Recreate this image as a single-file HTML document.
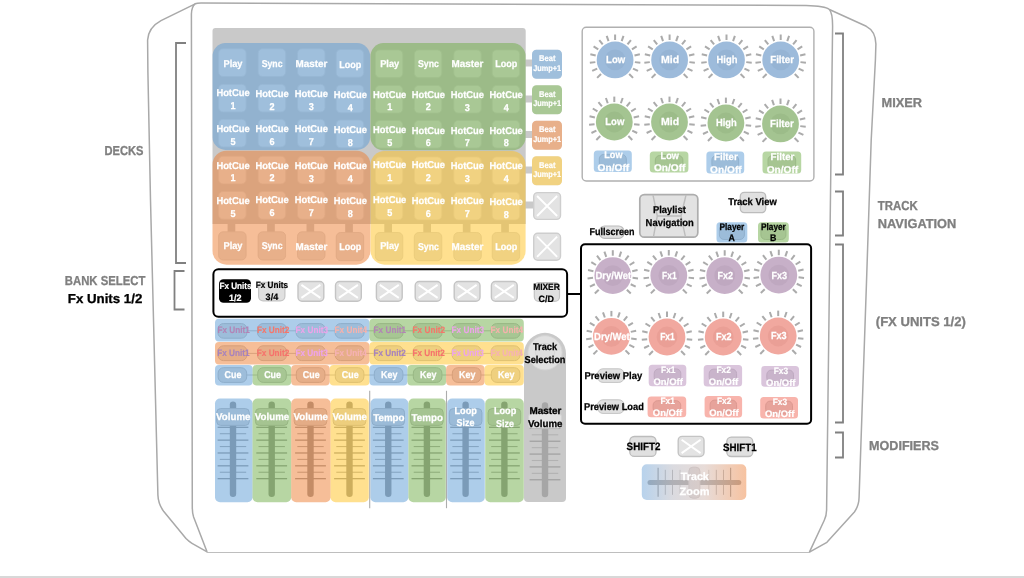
<!DOCTYPE html>
<html lang="en">
<head>
<meta charset="utf-8">
<title>Controller mapping</title>
<style>
html,body{margin:0;padding:0;background:#fff;}
body{width:1024px;height:578px;overflow:hidden;}
svg{display:block;}
text{font-family:"Liberation Sans",sans-serif;font-weight:bold;text-rendering:geometricPrecision;}
</style>
</head>
<body>
<svg width="1024" height="578" viewBox="0 0 1024 578">
<rect width="1024" height="578" fill="#fff"/>
<g fill="none" stroke="#a9a9a9" stroke-width="1.5" stroke-linejoin="round">
<path d="M195.2,3.8 L161,20.6 Q148.4,27.4 147.6,40 L147.9,72 L150.5,200 L157.9,495 Q158.2,504 163.8,511.6 L186,538.6 Q188.6,541.4 192,543.3 L207.1,551.9 L809.4,552.1 L826.9,542.3 L854.4,512 Q859,505.5 859.1,497 L866.4,285 L871.2,140 L875.4,60 L875.9,44 Q875.5,31 866.3,26.3 L829.4,9.5"/>
<path d="M207.1,551.9 L193.6,517 Q192.4,513.5 192.3,508 L191.4,14 Q191.6,6.5 195.2,3.8 Q197,3 201,3 L806,5.4 Q825,5.8 829.4,9.5 Q832.6,13 832.6,26 L826.6,510 Q826.4,516 824.4,520 L809.4,552.1" fill="#fff"/>
</g>
<g fill="none" stroke="#808080" stroke-width="1.8">
<path d="M186,43 L176,43 L176,263 L186,263"/>
<path d="M184.5,271 L174.5,271 L174.5,309.5 L184.5,309.5"/>
<path d="M835,33.5 L843,33.5 L843,174.5 L835,174.5"/>
<path d="M835,191.5 L843,191.5 L843,235.5 L835,235.5"/>
<path d="M835,244.5 L843,244.5 L843,422.5 L835,422.5"/>
<path d="M835,432.5 L843,432.5 L843,457.5 L835,457.5"/>
</g>
<text x="104.5" y="155.3" font-size="13" fill="#7f7f7f" stroke="#7f7f7f" stroke-width="0.3" textLength="39" lengthAdjust="spacingAndGlyphs">DECKS</text>
<text x="64.8" y="285.2" font-size="13" fill="#7f7f7f" stroke="#7f7f7f" stroke-width="0.3" textLength="80.5" lengthAdjust="spacingAndGlyphs">BANK SELECT</text>
<text x="67.8" y="303.2" font-size="13" fill="#000" stroke="#000" stroke-width="0.3" textLength="74.5" lengthAdjust="spacingAndGlyphs">Fx Units 1/2</text>
<text x="881.5" y="107" font-size="13" fill="#7f7f7f" stroke="#7f7f7f" stroke-width="0.3" textLength="40.5" lengthAdjust="spacingAndGlyphs">MIXER</text>
<text x="877.8" y="210.2" font-size="13" fill="#7f7f7f" stroke="#7f7f7f" stroke-width="0.3" textLength="40" lengthAdjust="spacingAndGlyphs">TRACK</text>
<text x="877.8" y="228.2" font-size="13" fill="#7f7f7f" stroke="#7f7f7f" stroke-width="0.3" textLength="78.5" lengthAdjust="spacingAndGlyphs">NAVIGATION</text>
<text x="875.8" y="326.3" font-size="13" fill="#7f7f7f" stroke="#7f7f7f" stroke-width="0.3" textLength="90" lengthAdjust="spacingAndGlyphs">(FX UNITS 1/2)</text>
<text x="869" y="449.6" font-size="13" fill="#7f7f7f" stroke="#7f7f7f" stroke-width="0.3" textLength="70" lengthAdjust="spacingAndGlyphs">MODIFIERS</text>
<path d="M212.5,224 V31 Q212.5,28 215.5,28 H522.7 Q525.7,28 525.7,31 V224 Z" fill="#c9c9c9"/>
<rect x="227.60" y="223.00" width="7.70" height="9.50" fill="#c9c9c9"/>
<rect x="267.10" y="223.00" width="7.70" height="9.50" fill="#c9c9c9"/>
<rect x="306.50" y="223.00" width="7.70" height="9.50" fill="#c9c9c9"/>
<rect x="345.20" y="223.00" width="7.70" height="9.50" fill="#c9c9c9"/>
<rect x="384.30" y="223.00" width="7.70" height="9.50" fill="#c9c9c9"/>
<rect x="423.30" y="223.00" width="7.70" height="9.50" fill="#c9c9c9"/>
<rect x="462.80" y="223.00" width="7.70" height="9.50" fill="#c9c9c9"/>
<rect x="501.20" y="223.00" width="7.70" height="9.50" fill="#c9c9c9"/>
<rect x="525.00" y="59.50" width="8.00" height="7.00" fill="#c9c9c9"/>
<rect x="525.00" y="95.50" width="8.00" height="7.00" fill="#c9c9c9"/>
<rect x="525.00" y="131.00" width="8.00" height="7.00" fill="#c9c9c9"/>
<rect x="525.00" y="166.50" width="8.00" height="7.00" fill="#c9c9c9"/>
<rect x="525.00" y="201.50" width="8.00" height="7.00" fill="#c9c9c9"/>
<rect x="218.60" y="48.80" width="27.50" height="27.70" rx="4.5" fill="#e2e2e2" stroke="#d2d2d2" stroke-width="0.8"/>
<rect x="218.60" y="84.30" width="27.50" height="27.70" rx="4.5" fill="#e2e2e2" stroke="#d2d2d2" stroke-width="0.8"/>
<rect x="218.60" y="119.30" width="27.50" height="27.70" rx="4.5" fill="#e2e2e2" stroke="#d2d2d2" stroke-width="0.8"/>
<rect x="218.60" y="156.20" width="27.50" height="27.70" rx="4.5" fill="#e2e2e2" stroke="#d2d2d2" stroke-width="0.8"/>
<rect x="218.60" y="191.50" width="27.50" height="27.70" rx="4.5" fill="#e2e2e2" stroke="#d2d2d2" stroke-width="0.8"/>
<rect x="218.60" y="231.80" width="27.50" height="28.20" rx="4.5" fill="#e2e2e2" stroke="#d2d2d2" stroke-width="0.8"/>
<rect x="258.10" y="48.80" width="27.50" height="27.70" rx="4.5" fill="#e2e2e2" stroke="#d2d2d2" stroke-width="0.8"/>
<rect x="258.10" y="84.30" width="27.50" height="27.70" rx="4.5" fill="#e2e2e2" stroke="#d2d2d2" stroke-width="0.8"/>
<rect x="258.10" y="119.30" width="27.50" height="27.70" rx="4.5" fill="#e2e2e2" stroke="#d2d2d2" stroke-width="0.8"/>
<rect x="258.10" y="156.20" width="27.50" height="27.70" rx="4.5" fill="#e2e2e2" stroke="#d2d2d2" stroke-width="0.8"/>
<rect x="258.10" y="191.50" width="27.50" height="27.70" rx="4.5" fill="#e2e2e2" stroke="#d2d2d2" stroke-width="0.8"/>
<rect x="258.10" y="231.80" width="27.50" height="28.20" rx="4.5" fill="#e2e2e2" stroke="#d2d2d2" stroke-width="0.8"/>
<rect x="297.50" y="48.80" width="27.50" height="27.70" rx="4.5" fill="#e2e2e2" stroke="#d2d2d2" stroke-width="0.8"/>
<rect x="297.50" y="84.30" width="27.50" height="27.70" rx="4.5" fill="#e2e2e2" stroke="#d2d2d2" stroke-width="0.8"/>
<rect x="297.50" y="119.30" width="27.50" height="27.70" rx="4.5" fill="#e2e2e2" stroke="#d2d2d2" stroke-width="0.8"/>
<rect x="297.50" y="156.20" width="27.50" height="27.70" rx="4.5" fill="#e2e2e2" stroke="#d2d2d2" stroke-width="0.8"/>
<rect x="297.50" y="191.50" width="27.50" height="27.70" rx="4.5" fill="#e2e2e2" stroke="#d2d2d2" stroke-width="0.8"/>
<rect x="297.50" y="231.80" width="27.50" height="28.20" rx="4.5" fill="#e2e2e2" stroke="#d2d2d2" stroke-width="0.8"/>
<rect x="336.20" y="49.50" width="27.50" height="27.70" rx="4.5" fill="#e2e2e2" stroke="#d2d2d2" stroke-width="0.8"/>
<rect x="336.20" y="85.00" width="27.50" height="27.70" rx="4.5" fill="#e2e2e2" stroke="#d2d2d2" stroke-width="0.8"/>
<rect x="336.20" y="120.00" width="27.50" height="27.70" rx="4.5" fill="#e2e2e2" stroke="#d2d2d2" stroke-width="0.8"/>
<rect x="336.20" y="156.90" width="27.50" height="27.70" rx="4.5" fill="#e2e2e2" stroke="#d2d2d2" stroke-width="0.8"/>
<rect x="336.20" y="192.20" width="27.50" height="27.70" rx="4.5" fill="#e2e2e2" stroke="#d2d2d2" stroke-width="0.8"/>
<rect x="336.20" y="232.50" width="27.50" height="28.20" rx="4.5" fill="#e2e2e2" stroke="#d2d2d2" stroke-width="0.8"/>
<rect x="375.30" y="49.90" width="27.50" height="27.70" rx="4.5" fill="#e2e2e2" stroke="#d2d2d2" stroke-width="0.8"/>
<rect x="375.30" y="85.40" width="27.50" height="27.70" rx="4.5" fill="#e2e2e2" stroke="#d2d2d2" stroke-width="0.8"/>
<rect x="375.30" y="120.40" width="27.50" height="27.70" rx="4.5" fill="#e2e2e2" stroke="#d2d2d2" stroke-width="0.8"/>
<rect x="375.30" y="156.90" width="27.50" height="27.70" rx="4.5" fill="#e2e2e2" stroke="#d2d2d2" stroke-width="0.8"/>
<rect x="375.30" y="192.20" width="27.50" height="27.70" rx="4.5" fill="#e2e2e2" stroke="#d2d2d2" stroke-width="0.8"/>
<rect x="375.30" y="232.50" width="27.50" height="28.20" rx="4.5" fill="#e2e2e2" stroke="#d2d2d2" stroke-width="0.8"/>
<rect x="414.30" y="49.90" width="27.50" height="27.70" rx="4.5" fill="#e2e2e2" stroke="#d2d2d2" stroke-width="0.8"/>
<rect x="414.30" y="85.40" width="27.50" height="27.70" rx="4.5" fill="#e2e2e2" stroke="#d2d2d2" stroke-width="0.8"/>
<rect x="414.30" y="120.40" width="27.50" height="27.70" rx="4.5" fill="#e2e2e2" stroke="#d2d2d2" stroke-width="0.8"/>
<rect x="414.30" y="156.90" width="27.50" height="27.70" rx="4.5" fill="#e2e2e2" stroke="#d2d2d2" stroke-width="0.8"/>
<rect x="414.30" y="192.20" width="27.50" height="27.70" rx="4.5" fill="#e2e2e2" stroke="#d2d2d2" stroke-width="0.8"/>
<rect x="414.30" y="232.50" width="27.50" height="28.20" rx="4.5" fill="#e2e2e2" stroke="#d2d2d2" stroke-width="0.8"/>
<rect x="453.80" y="49.90" width="27.50" height="27.70" rx="4.5" fill="#e2e2e2" stroke="#d2d2d2" stroke-width="0.8"/>
<rect x="453.80" y="85.40" width="27.50" height="27.70" rx="4.5" fill="#e2e2e2" stroke="#d2d2d2" stroke-width="0.8"/>
<rect x="453.80" y="120.40" width="27.50" height="27.70" rx="4.5" fill="#e2e2e2" stroke="#d2d2d2" stroke-width="0.8"/>
<rect x="453.80" y="156.90" width="27.50" height="27.70" rx="4.5" fill="#e2e2e2" stroke="#d2d2d2" stroke-width="0.8"/>
<rect x="453.80" y="192.20" width="27.50" height="27.70" rx="4.5" fill="#e2e2e2" stroke="#d2d2d2" stroke-width="0.8"/>
<rect x="453.80" y="232.50" width="27.50" height="28.20" rx="4.5" fill="#e2e2e2" stroke="#d2d2d2" stroke-width="0.8"/>
<rect x="492.20" y="49.90" width="27.50" height="27.70" rx="4.5" fill="#e2e2e2" stroke="#d2d2d2" stroke-width="0.8"/>
<rect x="492.20" y="85.40" width="27.50" height="27.70" rx="4.5" fill="#e2e2e2" stroke="#d2d2d2" stroke-width="0.8"/>
<rect x="492.20" y="120.40" width="27.50" height="27.70" rx="4.5" fill="#e2e2e2" stroke="#d2d2d2" stroke-width="0.8"/>
<rect x="492.20" y="156.90" width="27.50" height="27.70" rx="4.5" fill="#e2e2e2" stroke="#d2d2d2" stroke-width="0.8"/>
<rect x="492.20" y="192.20" width="27.50" height="27.70" rx="4.5" fill="#e2e2e2" stroke="#d2d2d2" stroke-width="0.8"/>
<rect x="492.20" y="232.50" width="27.50" height="28.20" rx="4.5" fill="#e2e2e2" stroke="#d2d2d2" stroke-width="0.8"/>
<rect x="532.00" y="49.70" width="30.00" height="29.00" rx="4.5" fill="#e2e2e2"/>
<rect x="532.00" y="85.20" width="30.00" height="29.00" rx="4.5" fill="#e2e2e2"/>
<rect x="532.00" y="120.70" width="30.00" height="29.00" rx="4.5" fill="#e2e2e2"/>
<rect x="532.00" y="156.20" width="30.00" height="29.00" rx="4.5" fill="#e2e2e2"/>
<rect x="533.70" y="192.60" width="26.80" height="26.80" rx="4" fill="#e3e3e3" stroke="#cecece" stroke-width="1.4"/>
<path d="M537.10,196.00 L557.10,216.00 M557.10,196.00 L537.10,216.00" stroke="#fff" stroke-width="1.9" fill="none"/>
<rect x="533.70" y="233.20" width="26.80" height="27.00" rx="4" fill="#e3e3e3" stroke="#cecece" stroke-width="1.4"/>
<path d="M537.10,236.60 L557.10,256.80 M557.10,236.60 L537.10,256.80" stroke="#fff" stroke-width="1.9" fill="none"/>
<rect x="212.50" y="43.10" width="157.60" height="106.80" rx="13" fill="#5b9bd5" opacity="0.5"/>
<rect x="370.50" y="43.10" width="155.10" height="107.10" rx="13" fill="#70ad47" opacity="0.5"/>
<rect x="212.50" y="150.70" width="157.90" height="114.00" rx="14" fill="#ed7d31" opacity="0.5"/>
<rect x="370.60" y="150.90" width="155.00" height="113.80" rx="14" fill="#ffc220" opacity="0.5"/>
<rect x="532.00" y="49.70" width="30.00" height="29.00" rx="4.5" fill="#5b9bd5" opacity="0.5"/>
<rect x="532.00" y="85.20" width="30.00" height="29.00" rx="4.5" fill="#70ad47" opacity="0.5"/>
<rect x="532.00" y="120.70" width="30.00" height="29.00" rx="4.5" fill="#ed7d31" opacity="0.5"/>
<rect x="532.00" y="156.20" width="30.00" height="29.00" rx="4.5" fill="#ffc220" opacity="0.5"/>
<text x="233.00" y="66.50" font-size="9.9" fill="#fff" stroke="#fff" stroke-width="0.25" text-anchor="middle" textLength="19.0" lengthAdjust="spacingAndGlyphs">Play</text>
<text x="233.00" y="248.50" font-size="9.9" fill="#fff" stroke="#fff" stroke-width="0.25" text-anchor="middle" textLength="19.0" lengthAdjust="spacingAndGlyphs">Play</text>
<text x="233.00" y="95.80" font-size="9.9" fill="#fff" stroke="#fff" stroke-width="0.25" text-anchor="middle" textLength="33.2" lengthAdjust="spacingAndGlyphs">HotCue</text>
<text transform="translate(233.00,108.80) scale(0.92,1)" font-size="9.9" fill="#fff" stroke="#fff" stroke-width="0.25" text-anchor="middle">1</text>
<text x="233.00" y="131.80" font-size="9.9" fill="#fff" stroke="#fff" stroke-width="0.25" text-anchor="middle" textLength="33.2" lengthAdjust="spacingAndGlyphs">HotCue</text>
<text transform="translate(233.00,144.80) scale(0.92,1)" font-size="9.9" fill="#fff" stroke="#fff" stroke-width="0.25" text-anchor="middle">5</text>
<text x="233.00" y="168.60" font-size="9.9" fill="#fff" stroke="#fff" stroke-width="0.25" text-anchor="middle" textLength="33.2" lengthAdjust="spacingAndGlyphs">HotCue</text>
<text transform="translate(233.00,181.30) scale(0.92,1)" font-size="9.9" fill="#fff" stroke="#fff" stroke-width="0.25" text-anchor="middle">1</text>
<text x="233.00" y="203.70" font-size="9.9" fill="#fff" stroke="#fff" stroke-width="0.25" text-anchor="middle" textLength="33.2" lengthAdjust="spacingAndGlyphs">HotCue</text>
<text transform="translate(233.00,216.60) scale(0.92,1)" font-size="9.9" fill="#fff" stroke="#fff" stroke-width="0.25" text-anchor="middle">5</text>
<text x="272.10" y="66.80" font-size="9.9" fill="#fff" stroke="#fff" stroke-width="0.25" text-anchor="middle" textLength="20.9" lengthAdjust="spacingAndGlyphs">Sync</text>
<text x="272.10" y="248.50" font-size="9.9" fill="#fff" stroke="#fff" stroke-width="0.25" text-anchor="middle" textLength="20.9" lengthAdjust="spacingAndGlyphs">Sync</text>
<text x="272.10" y="96.60" font-size="9.9" fill="#fff" stroke="#fff" stroke-width="0.25" text-anchor="middle" textLength="33.2" lengthAdjust="spacingAndGlyphs">HotCue</text>
<text transform="translate(272.10,109.60) scale(0.92,1)" font-size="9.9" fill="#fff" stroke="#fff" stroke-width="0.25" text-anchor="middle">2</text>
<text x="272.10" y="132.30" font-size="9.9" fill="#fff" stroke="#fff" stroke-width="0.25" text-anchor="middle" textLength="33.2" lengthAdjust="spacingAndGlyphs">HotCue</text>
<text transform="translate(272.10,145.30) scale(0.92,1)" font-size="9.9" fill="#fff" stroke="#fff" stroke-width="0.25" text-anchor="middle">6</text>
<text x="272.10" y="168.60" font-size="9.9" fill="#fff" stroke="#fff" stroke-width="0.25" text-anchor="middle" textLength="33.2" lengthAdjust="spacingAndGlyphs">HotCue</text>
<text transform="translate(272.10,181.30) scale(0.92,1)" font-size="9.9" fill="#fff" stroke="#fff" stroke-width="0.25" text-anchor="middle">2</text>
<text x="272.10" y="203.30" font-size="9.9" fill="#fff" stroke="#fff" stroke-width="0.25" text-anchor="middle" textLength="33.2" lengthAdjust="spacingAndGlyphs">HotCue</text>
<text transform="translate(272.10,216.20) scale(0.92,1)" font-size="9.9" fill="#fff" stroke="#fff" stroke-width="0.25" text-anchor="middle">6</text>
<text x="311.40" y="67.10" font-size="9.9" fill="#fff" stroke="#fff" stroke-width="0.25" text-anchor="middle" textLength="31.9" lengthAdjust="spacingAndGlyphs">Master</text>
<text x="311.40" y="249.50" font-size="9.9" fill="#fff" stroke="#fff" stroke-width="0.25" text-anchor="middle" textLength="31.9" lengthAdjust="spacingAndGlyphs">Master</text>
<text x="311.40" y="97.00" font-size="9.9" fill="#fff" stroke="#fff" stroke-width="0.25" text-anchor="middle" textLength="33.2" lengthAdjust="spacingAndGlyphs">HotCue</text>
<text transform="translate(311.40,110.00) scale(0.92,1)" font-size="9.9" fill="#fff" stroke="#fff" stroke-width="0.25" text-anchor="middle">3</text>
<text x="311.40" y="132.30" font-size="9.9" fill="#fff" stroke="#fff" stroke-width="0.25" text-anchor="middle" textLength="33.2" lengthAdjust="spacingAndGlyphs">HotCue</text>
<text transform="translate(311.40,145.30) scale(0.92,1)" font-size="9.9" fill="#fff" stroke="#fff" stroke-width="0.25" text-anchor="middle">7</text>
<text x="311.40" y="169.00" font-size="9.9" fill="#fff" stroke="#fff" stroke-width="0.25" text-anchor="middle" textLength="33.2" lengthAdjust="spacingAndGlyphs">HotCue</text>
<text transform="translate(311.40,181.70) scale(0.92,1)" font-size="9.9" fill="#fff" stroke="#fff" stroke-width="0.25" text-anchor="middle">3</text>
<text x="311.40" y="203.30" font-size="9.9" fill="#fff" stroke="#fff" stroke-width="0.25" text-anchor="middle" textLength="33.2" lengthAdjust="spacingAndGlyphs">HotCue</text>
<text transform="translate(311.40,216.20) scale(0.92,1)" font-size="9.9" fill="#fff" stroke="#fff" stroke-width="0.25" text-anchor="middle">7</text>
<text x="350.30" y="67.70" font-size="9.9" fill="#fff" stroke="#fff" stroke-width="0.25" text-anchor="middle" textLength="22.0" lengthAdjust="spacingAndGlyphs">Loop</text>
<text x="350.30" y="249.70" font-size="9.9" fill="#fff" stroke="#fff" stroke-width="0.25" text-anchor="middle" textLength="22.0" lengthAdjust="spacingAndGlyphs">Loop</text>
<text x="350.30" y="97.50" font-size="9.9" fill="#fff" stroke="#fff" stroke-width="0.25" text-anchor="middle" textLength="33.2" lengthAdjust="spacingAndGlyphs">HotCue</text>
<text transform="translate(350.30,110.50) scale(0.92,1)" font-size="9.9" fill="#fff" stroke="#fff" stroke-width="0.25" text-anchor="middle">4</text>
<text x="350.30" y="132.90" font-size="9.9" fill="#fff" stroke="#fff" stroke-width="0.25" text-anchor="middle" textLength="33.2" lengthAdjust="spacingAndGlyphs">HotCue</text>
<text transform="translate(350.30,145.90) scale(0.92,1)" font-size="9.9" fill="#fff" stroke="#fff" stroke-width="0.25" text-anchor="middle">8</text>
<text x="350.30" y="169.00" font-size="9.9" fill="#fff" stroke="#fff" stroke-width="0.25" text-anchor="middle" textLength="33.2" lengthAdjust="spacingAndGlyphs">HotCue</text>
<text transform="translate(350.30,181.70) scale(0.92,1)" font-size="9.9" fill="#fff" stroke="#fff" stroke-width="0.25" text-anchor="middle">4</text>
<text x="350.30" y="203.70" font-size="9.9" fill="#fff" stroke="#fff" stroke-width="0.25" text-anchor="middle" textLength="33.2" lengthAdjust="spacingAndGlyphs">HotCue</text>
<text transform="translate(350.30,216.60) scale(0.92,1)" font-size="9.9" fill="#fff" stroke="#fff" stroke-width="0.25" text-anchor="middle">8</text>
<text x="389.70" y="66.90" font-size="9.9" fill="#fff" stroke="#fff" stroke-width="0.25" text-anchor="middle" textLength="19.0" lengthAdjust="spacingAndGlyphs">Play</text>
<text x="389.70" y="248.50" font-size="9.9" fill="#fff" stroke="#fff" stroke-width="0.25" text-anchor="middle" textLength="19.0" lengthAdjust="spacingAndGlyphs">Play</text>
<text x="389.70" y="97.50" font-size="9.9" fill="#fff" stroke="#fff" stroke-width="0.25" text-anchor="middle" textLength="33.2" lengthAdjust="spacingAndGlyphs">HotCue</text>
<text transform="translate(389.70,109.90) scale(0.92,1)" font-size="9.9" fill="#fff" stroke="#fff" stroke-width="0.25" text-anchor="middle">1</text>
<text x="389.70" y="133.10" font-size="9.9" fill="#fff" stroke="#fff" stroke-width="0.25" text-anchor="middle" textLength="33.2" lengthAdjust="spacingAndGlyphs">HotCue</text>
<text transform="translate(389.70,145.90) scale(0.92,1)" font-size="9.9" fill="#fff" stroke="#fff" stroke-width="0.25" text-anchor="middle">5</text>
<text x="389.70" y="167.80" font-size="9.9" fill="#fff" stroke="#fff" stroke-width="0.25" text-anchor="middle" textLength="33.2" lengthAdjust="spacingAndGlyphs">HotCue</text>
<text transform="translate(389.70,180.70) scale(0.92,1)" font-size="9.9" fill="#fff" stroke="#fff" stroke-width="0.25" text-anchor="middle">1</text>
<text x="389.70" y="203.30" font-size="9.9" fill="#fff" stroke="#fff" stroke-width="0.25" text-anchor="middle" textLength="33.2" lengthAdjust="spacingAndGlyphs">HotCue</text>
<text transform="translate(389.70,216.30) scale(0.92,1)" font-size="9.9" fill="#fff" stroke="#fff" stroke-width="0.25" text-anchor="middle">5</text>
<text x="428.40" y="67.00" font-size="9.9" fill="#fff" stroke="#fff" stroke-width="0.25" text-anchor="middle" textLength="20.9" lengthAdjust="spacingAndGlyphs">Sync</text>
<text x="428.40" y="249.50" font-size="9.9" fill="#fff" stroke="#fff" stroke-width="0.25" text-anchor="middle" textLength="20.9" lengthAdjust="spacingAndGlyphs">Sync</text>
<text x="428.40" y="97.50" font-size="9.9" fill="#fff" stroke="#fff" stroke-width="0.25" text-anchor="middle" textLength="33.2" lengthAdjust="spacingAndGlyphs">HotCue</text>
<text transform="translate(428.40,109.90) scale(0.92,1)" font-size="9.9" fill="#fff" stroke="#fff" stroke-width="0.25" text-anchor="middle">2</text>
<text x="428.40" y="133.60" font-size="9.9" fill="#fff" stroke="#fff" stroke-width="0.25" text-anchor="middle" textLength="33.2" lengthAdjust="spacingAndGlyphs">HotCue</text>
<text transform="translate(428.40,146.40) scale(0.92,1)" font-size="9.9" fill="#fff" stroke="#fff" stroke-width="0.25" text-anchor="middle">6</text>
<text x="428.40" y="167.80" font-size="9.9" fill="#fff" stroke="#fff" stroke-width="0.25" text-anchor="middle" textLength="33.2" lengthAdjust="spacingAndGlyphs">HotCue</text>
<text transform="translate(428.40,180.70) scale(0.92,1)" font-size="9.9" fill="#fff" stroke="#fff" stroke-width="0.25" text-anchor="middle">2</text>
<text x="428.40" y="203.70" font-size="9.9" fill="#fff" stroke="#fff" stroke-width="0.25" text-anchor="middle" textLength="33.2" lengthAdjust="spacingAndGlyphs">HotCue</text>
<text transform="translate(428.40,216.70) scale(0.92,1)" font-size="9.9" fill="#fff" stroke="#fff" stroke-width="0.25" text-anchor="middle">6</text>
<text x="467.40" y="66.90" font-size="9.9" fill="#fff" stroke="#fff" stroke-width="0.25" text-anchor="middle" textLength="31.9" lengthAdjust="spacingAndGlyphs">Master</text>
<text x="467.40" y="250.40" font-size="9.9" fill="#fff" stroke="#fff" stroke-width="0.25" text-anchor="middle" textLength="31.9" lengthAdjust="spacingAndGlyphs">Master</text>
<text x="467.40" y="98.10" font-size="9.9" fill="#fff" stroke="#fff" stroke-width="0.25" text-anchor="middle" textLength="33.2" lengthAdjust="spacingAndGlyphs">HotCue</text>
<text transform="translate(467.40,110.50) scale(0.92,1)" font-size="9.9" fill="#fff" stroke="#fff" stroke-width="0.25" text-anchor="middle">3</text>
<text x="467.40" y="133.60" font-size="9.9" fill="#fff" stroke="#fff" stroke-width="0.25" text-anchor="middle" textLength="33.2" lengthAdjust="spacingAndGlyphs">HotCue</text>
<text transform="translate(467.40,146.40) scale(0.92,1)" font-size="9.9" fill="#fff" stroke="#fff" stroke-width="0.25" text-anchor="middle">7</text>
<text x="467.40" y="168.60" font-size="9.9" fill="#fff" stroke="#fff" stroke-width="0.25" text-anchor="middle" textLength="33.2" lengthAdjust="spacingAndGlyphs">HotCue</text>
<text transform="translate(467.40,181.50) scale(0.92,1)" font-size="9.9" fill="#fff" stroke="#fff" stroke-width="0.25" text-anchor="middle">3</text>
<text x="467.40" y="203.50" font-size="9.9" fill="#fff" stroke="#fff" stroke-width="0.25" text-anchor="middle" textLength="33.2" lengthAdjust="spacingAndGlyphs">HotCue</text>
<text transform="translate(467.40,216.50) scale(0.92,1)" font-size="9.9" fill="#fff" stroke="#fff" stroke-width="0.25" text-anchor="middle">7</text>
<text x="506.20" y="66.90" font-size="9.9" fill="#fff" stroke="#fff" stroke-width="0.25" text-anchor="middle" textLength="22.0" lengthAdjust="spacingAndGlyphs">Loop</text>
<text x="506.20" y="250.40" font-size="9.9" fill="#fff" stroke="#fff" stroke-width="0.25" text-anchor="middle" textLength="22.0" lengthAdjust="spacingAndGlyphs">Loop</text>
<text x="506.20" y="98.10" font-size="9.9" fill="#fff" stroke="#fff" stroke-width="0.25" text-anchor="middle" textLength="33.2" lengthAdjust="spacingAndGlyphs">HotCue</text>
<text transform="translate(506.20,110.50) scale(0.92,1)" font-size="9.9" fill="#fff" stroke="#fff" stroke-width="0.25" text-anchor="middle">4</text>
<text x="506.20" y="133.60" font-size="9.9" fill="#fff" stroke="#fff" stroke-width="0.25" text-anchor="middle" textLength="33.2" lengthAdjust="spacingAndGlyphs">HotCue</text>
<text transform="translate(506.20,146.40) scale(0.92,1)" font-size="9.9" fill="#fff" stroke="#fff" stroke-width="0.25" text-anchor="middle">8</text>
<text x="506.20" y="169.00" font-size="9.9" fill="#fff" stroke="#fff" stroke-width="0.25" text-anchor="middle" textLength="33.2" lengthAdjust="spacingAndGlyphs">HotCue</text>
<text transform="translate(506.20,181.90) scale(0.92,1)" font-size="9.9" fill="#fff" stroke="#fff" stroke-width="0.25" text-anchor="middle">4</text>
<text x="506.20" y="204.50" font-size="9.9" fill="#fff" stroke="#fff" stroke-width="0.25" text-anchor="middle" textLength="33.2" lengthAdjust="spacingAndGlyphs">HotCue</text>
<text transform="translate(506.20,217.50) scale(0.92,1)" font-size="9.9" fill="#fff" stroke="#fff" stroke-width="0.25" text-anchor="middle">8</text>
<text x="547.20" y="61.00" font-size="8.4" fill="#fff" stroke="#fff" stroke-width="0.2" text-anchor="middle" textLength="16.4" lengthAdjust="spacingAndGlyphs">Beat</text>
<text x="547.20" y="70.80" font-size="8.4" fill="#fff" stroke="#fff" stroke-width="0.2" text-anchor="middle" textLength="28.0" lengthAdjust="spacingAndGlyphs">Jump+1</text>
<text x="547.20" y="96.50" font-size="8.4" fill="#fff" stroke="#fff" stroke-width="0.2" text-anchor="middle" textLength="16.4" lengthAdjust="spacingAndGlyphs">Beat</text>
<text x="547.20" y="106.30" font-size="8.4" fill="#fff" stroke="#fff" stroke-width="0.2" text-anchor="middle" textLength="28.0" lengthAdjust="spacingAndGlyphs">Jump+1</text>
<text x="547.20" y="132.00" font-size="8.4" fill="#fff" stroke="#fff" stroke-width="0.2" text-anchor="middle" textLength="16.4" lengthAdjust="spacingAndGlyphs">Beat</text>
<text x="547.20" y="141.80" font-size="8.4" fill="#fff" stroke="#fff" stroke-width="0.2" text-anchor="middle" textLength="28.0" lengthAdjust="spacingAndGlyphs">Jump+1</text>
<text x="547.20" y="167.50" font-size="8.4" fill="#fff" stroke="#fff" stroke-width="0.2" text-anchor="middle" textLength="16.4" lengthAdjust="spacingAndGlyphs">Beat</text>
<text x="547.20" y="177.30" font-size="8.4" fill="#fff" stroke="#fff" stroke-width="0.2" text-anchor="middle" textLength="28.0" lengthAdjust="spacingAndGlyphs">Jump+1</text>
<rect x="582.20" y="27.30" width="231.70" height="153.70" rx="4" fill="#fff" stroke="#b0b0b0" stroke-width="1.4"/>
<g stroke="#ababab" stroke-width="2" stroke-linecap="butt">
<line x1="601.03" y1="73.97" x2="597.14" y2="77.86"/>
<line x1="597.17" y1="68.53" x2="592.22" y2="70.92"/>
<line x1="595.33" y1="62.13" x2="589.86" y2="62.74"/>
<line x1="595.70" y1="55.47" x2="590.34" y2="54.25"/>
<line x1="598.25" y1="49.31" x2="593.59" y2="46.39"/>
<line x1="602.69" y1="44.34" x2="599.26" y2="40.04"/>
<line x1="608.53" y1="41.12" x2="606.71" y2="35.93"/>
<line x1="615.10" y1="40.00" x2="615.10" y2="34.50"/>
<line x1="621.67" y1="41.12" x2="623.49" y2="35.93"/>
<line x1="627.51" y1="44.34" x2="630.94" y2="40.04"/>
<line x1="631.95" y1="49.31" x2="636.61" y2="46.39"/>
<line x1="634.50" y1="55.47" x2="639.86" y2="54.25"/>
<line x1="634.87" y1="62.13" x2="640.34" y2="62.74"/>
<line x1="633.03" y1="68.53" x2="637.98" y2="70.92"/>
<line x1="629.17" y1="73.97" x2="633.06" y2="77.86"/>
</g>
<circle cx="615.1" cy="59.9" r="18.4" fill="#9dbbdb"/>
<circle cx="615.1" cy="59.9" r="10.4" fill="#96b4d4"/>
<text x="615.60" y="63.30" font-size="10.3" fill="#fff" stroke="#fff" stroke-width="0.25" text-anchor="middle" textLength="19.0" lengthAdjust="spacingAndGlyphs">Low</text>
<g stroke="#ababab" stroke-width="2" stroke-linecap="butt">
<line x1="655.53" y1="73.97" x2="651.64" y2="77.86"/>
<line x1="651.67" y1="68.53" x2="646.72" y2="70.92"/>
<line x1="649.83" y1="62.13" x2="644.36" y2="62.74"/>
<line x1="650.20" y1="55.47" x2="644.84" y2="54.25"/>
<line x1="652.75" y1="49.31" x2="648.09" y2="46.39"/>
<line x1="657.19" y1="44.34" x2="653.76" y2="40.04"/>
<line x1="663.03" y1="41.12" x2="661.21" y2="35.93"/>
<line x1="669.60" y1="40.00" x2="669.60" y2="34.50"/>
<line x1="676.17" y1="41.12" x2="677.99" y2="35.93"/>
<line x1="682.01" y1="44.34" x2="685.44" y2="40.04"/>
<line x1="686.45" y1="49.31" x2="691.11" y2="46.39"/>
<line x1="689.00" y1="55.47" x2="694.36" y2="54.25"/>
<line x1="689.37" y1="62.13" x2="694.84" y2="62.74"/>
<line x1="687.53" y1="68.53" x2="692.48" y2="70.92"/>
<line x1="683.67" y1="73.97" x2="687.56" y2="77.86"/>
</g>
<circle cx="669.6" cy="59.9" r="18.4" fill="#9dbbdb"/>
<circle cx="669.6" cy="59.9" r="10.4" fill="#96b4d4"/>
<text x="670.10" y="63.30" font-size="10.3" fill="#fff" stroke="#fff" stroke-width="0.25" text-anchor="middle" textLength="18.2" lengthAdjust="spacingAndGlyphs">Mid</text>
<g stroke="#ababab" stroke-width="2" stroke-linecap="butt">
<line x1="712.43" y1="73.97" x2="708.54" y2="77.86"/>
<line x1="708.57" y1="68.53" x2="703.62" y2="70.92"/>
<line x1="706.73" y1="62.13" x2="701.26" y2="62.74"/>
<line x1="707.10" y1="55.47" x2="701.74" y2="54.25"/>
<line x1="709.65" y1="49.31" x2="704.99" y2="46.39"/>
<line x1="714.09" y1="44.34" x2="710.66" y2="40.04"/>
<line x1="719.93" y1="41.12" x2="718.11" y2="35.93"/>
<line x1="726.50" y1="40.00" x2="726.50" y2="34.50"/>
<line x1="733.07" y1="41.12" x2="734.89" y2="35.93"/>
<line x1="738.91" y1="44.34" x2="742.34" y2="40.04"/>
<line x1="743.35" y1="49.31" x2="748.01" y2="46.39"/>
<line x1="745.90" y1="55.47" x2="751.26" y2="54.25"/>
<line x1="746.27" y1="62.13" x2="751.74" y2="62.74"/>
<line x1="744.43" y1="68.53" x2="749.38" y2="70.92"/>
<line x1="740.57" y1="73.97" x2="744.46" y2="77.86"/>
</g>
<circle cx="726.5" cy="59.9" r="18.4" fill="#9dbbdb"/>
<circle cx="726.5" cy="59.9" r="10.4" fill="#96b4d4"/>
<text x="727.00" y="63.30" font-size="10.3" fill="#fff" stroke="#fff" stroke-width="0.25" text-anchor="middle" textLength="20.8" lengthAdjust="spacingAndGlyphs">High</text>
<g stroke="#ababab" stroke-width="2" stroke-linecap="butt">
<line x1="766.63" y1="73.97" x2="762.74" y2="77.86"/>
<line x1="762.77" y1="68.53" x2="757.82" y2="70.92"/>
<line x1="760.93" y1="62.13" x2="755.46" y2="62.74"/>
<line x1="761.30" y1="55.47" x2="755.94" y2="54.25"/>
<line x1="763.85" y1="49.31" x2="759.19" y2="46.39"/>
<line x1="768.29" y1="44.34" x2="764.86" y2="40.04"/>
<line x1="774.13" y1="41.12" x2="772.31" y2="35.93"/>
<line x1="780.70" y1="40.00" x2="780.70" y2="34.50"/>
<line x1="787.27" y1="41.12" x2="789.09" y2="35.93"/>
<line x1="793.11" y1="44.34" x2="796.54" y2="40.04"/>
<line x1="797.55" y1="49.31" x2="802.21" y2="46.39"/>
<line x1="800.10" y1="55.47" x2="805.46" y2="54.25"/>
<line x1="800.47" y1="62.13" x2="805.94" y2="62.74"/>
<line x1="798.63" y1="68.53" x2="803.58" y2="70.92"/>
<line x1="794.77" y1="73.97" x2="798.66" y2="77.86"/>
</g>
<circle cx="780.7" cy="59.9" r="18.4" fill="#9dbbdb"/>
<circle cx="780.7" cy="59.9" r="10.4" fill="#96b4d4"/>
<text x="782.10" y="63.30" font-size="10.3" fill="#fff" stroke="#fff" stroke-width="0.25" text-anchor="middle" textLength="23.8" lengthAdjust="spacingAndGlyphs">Filter</text>
<g stroke="#ababab" stroke-width="2" stroke-linecap="butt">
<line x1="600.23" y1="136.07" x2="596.34" y2="139.96"/>
<line x1="596.37" y1="130.63" x2="591.42" y2="133.02"/>
<line x1="594.53" y1="124.23" x2="589.06" y2="124.84"/>
<line x1="594.90" y1="117.57" x2="589.54" y2="116.35"/>
<line x1="597.45" y1="111.41" x2="592.79" y2="108.49"/>
<line x1="601.89" y1="106.44" x2="598.46" y2="102.14"/>
<line x1="607.73" y1="103.22" x2="605.91" y2="98.03"/>
<line x1="614.30" y1="102.10" x2="614.30" y2="96.60"/>
<line x1="620.87" y1="103.22" x2="622.69" y2="98.03"/>
<line x1="626.71" y1="106.44" x2="630.14" y2="102.14"/>
<line x1="631.15" y1="111.41" x2="635.81" y2="108.49"/>
<line x1="633.70" y1="117.57" x2="639.06" y2="116.35"/>
<line x1="634.07" y1="124.23" x2="639.54" y2="124.84"/>
<line x1="632.23" y1="130.63" x2="637.18" y2="133.02"/>
<line x1="628.37" y1="136.07" x2="632.26" y2="139.96"/>
</g>
<circle cx="614.3" cy="122" r="18.4" fill="#a4c491"/>
<circle cx="614.3" cy="122" r="10.4" fill="#9cbc89"/>
<text x="614.80" y="125.40" font-size="10.3" fill="#fff" stroke="#fff" stroke-width="0.25" text-anchor="middle" textLength="19.0" lengthAdjust="spacingAndGlyphs">Low</text>
<g stroke="#ababab" stroke-width="2" stroke-linecap="butt">
<line x1="655.43" y1="136.07" x2="651.54" y2="139.96"/>
<line x1="651.57" y1="130.63" x2="646.62" y2="133.02"/>
<line x1="649.73" y1="124.23" x2="644.26" y2="124.84"/>
<line x1="650.10" y1="117.57" x2="644.74" y2="116.35"/>
<line x1="652.65" y1="111.41" x2="647.99" y2="108.49"/>
<line x1="657.09" y1="106.44" x2="653.66" y2="102.14"/>
<line x1="662.93" y1="103.22" x2="661.11" y2="98.03"/>
<line x1="669.50" y1="102.10" x2="669.50" y2="96.60"/>
<line x1="676.07" y1="103.22" x2="677.89" y2="98.03"/>
<line x1="681.91" y1="106.44" x2="685.34" y2="102.14"/>
<line x1="686.35" y1="111.41" x2="691.01" y2="108.49"/>
<line x1="688.90" y1="117.57" x2="694.26" y2="116.35"/>
<line x1="689.27" y1="124.23" x2="694.74" y2="124.84"/>
<line x1="687.43" y1="130.63" x2="692.38" y2="133.02"/>
<line x1="683.57" y1="136.07" x2="687.46" y2="139.96"/>
</g>
<circle cx="669.5" cy="122" r="18.4" fill="#a4c491"/>
<circle cx="669.5" cy="122" r="10.4" fill="#9cbc89"/>
<text x="670.00" y="125.40" font-size="10.3" fill="#fff" stroke="#fff" stroke-width="0.25" text-anchor="middle" textLength="18.2" lengthAdjust="spacingAndGlyphs">Mid</text>
<g stroke="#ababab" stroke-width="2" stroke-linecap="butt">
<line x1="711.83" y1="137.07" x2="707.94" y2="140.96"/>
<line x1="707.97" y1="131.63" x2="703.02" y2="134.02"/>
<line x1="706.13" y1="125.23" x2="700.66" y2="125.84"/>
<line x1="706.50" y1="118.57" x2="701.14" y2="117.35"/>
<line x1="709.05" y1="112.41" x2="704.39" y2="109.49"/>
<line x1="713.49" y1="107.44" x2="710.06" y2="103.14"/>
<line x1="719.33" y1="104.22" x2="717.51" y2="99.03"/>
<line x1="725.90" y1="103.10" x2="725.90" y2="97.60"/>
<line x1="732.47" y1="104.22" x2="734.29" y2="99.03"/>
<line x1="738.31" y1="107.44" x2="741.74" y2="103.14"/>
<line x1="742.75" y1="112.41" x2="747.41" y2="109.49"/>
<line x1="745.30" y1="118.57" x2="750.66" y2="117.35"/>
<line x1="745.67" y1="125.23" x2="751.14" y2="125.84"/>
<line x1="743.83" y1="131.63" x2="748.78" y2="134.02"/>
<line x1="739.97" y1="137.07" x2="743.86" y2="140.96"/>
</g>
<circle cx="725.9" cy="123" r="18.4" fill="#a4c491"/>
<circle cx="725.9" cy="123" r="10.4" fill="#9cbc89"/>
<text x="726.40" y="126.40" font-size="10.3" fill="#fff" stroke="#fff" stroke-width="0.25" text-anchor="middle" textLength="20.8" lengthAdjust="spacingAndGlyphs">High</text>
<g stroke="#ababab" stroke-width="2" stroke-linecap="butt">
<line x1="766.43" y1="137.97" x2="762.54" y2="141.86"/>
<line x1="762.57" y1="132.53" x2="757.62" y2="134.92"/>
<line x1="760.73" y1="126.13" x2="755.26" y2="126.74"/>
<line x1="761.10" y1="119.47" x2="755.74" y2="118.25"/>
<line x1="763.65" y1="113.31" x2="758.99" y2="110.39"/>
<line x1="768.09" y1="108.34" x2="764.66" y2="104.04"/>
<line x1="773.93" y1="105.12" x2="772.11" y2="99.93"/>
<line x1="780.50" y1="104.00" x2="780.50" y2="98.50"/>
<line x1="787.07" y1="105.12" x2="788.89" y2="99.93"/>
<line x1="792.91" y1="108.34" x2="796.34" y2="104.04"/>
<line x1="797.35" y1="113.31" x2="802.01" y2="110.39"/>
<line x1="799.90" y1="119.47" x2="805.26" y2="118.25"/>
<line x1="800.27" y1="126.13" x2="805.74" y2="126.74"/>
<line x1="798.43" y1="132.53" x2="803.38" y2="134.92"/>
<line x1="794.57" y1="137.97" x2="798.46" y2="141.86"/>
</g>
<circle cx="780.5" cy="123.9" r="18.4" fill="#a4c491"/>
<circle cx="780.5" cy="123.9" r="10.4" fill="#9cbc89"/>
<text x="781.90" y="127.30" font-size="10.3" fill="#fff" stroke="#fff" stroke-width="0.25" text-anchor="middle" textLength="23.8" lengthAdjust="spacingAndGlyphs">Filter</text>
<rect x="599.30" y="154.40" width="27.00" height="13.20" rx="4.5" fill="#dcdcdc" stroke="#c4c4c4" stroke-width="1"/>
<rect x="593.80" y="150.40" width="38.00" height="21.70" rx="3.5" fill="#5b9bd5" opacity="0.5"/>
<text x="613.40" y="157.80" font-size="9.8" fill="#fff" stroke="#fff" stroke-width="0.25" text-anchor="middle" textLength="18.2" lengthAdjust="spacingAndGlyphs">Low</text>
<text x="613.40" y="170.60" font-size="9.8" fill="#fff" stroke="#fff" stroke-width="0.25" text-anchor="middle" textLength="31.6" lengthAdjust="spacingAndGlyphs">On/Off</text>
<rect x="655.30" y="155.50" width="27.60" height="12.50" rx="4.5" fill="#dcdcdc" stroke="#c4c4c4" stroke-width="1"/>
<rect x="649.80" y="151.50" width="38.60" height="21.00" rx="3.5" fill="#70ad47" opacity="0.5"/>
<text x="669.70" y="158.80" font-size="9.8" fill="#fff" stroke="#fff" stroke-width="0.25" text-anchor="middle" textLength="18.2" lengthAdjust="spacingAndGlyphs">Low</text>
<text x="669.70" y="171.30" font-size="9.8" fill="#fff" stroke="#fff" stroke-width="0.25" text-anchor="middle" textLength="31.6" lengthAdjust="spacingAndGlyphs">On/Off</text>
<rect x="711.90" y="155.50" width="26.80" height="13.50" rx="4.5" fill="#dcdcdc" stroke="#c4c4c4" stroke-width="1"/>
<rect x="706.40" y="151.50" width="37.80" height="22.00" rx="3.5" fill="#5b9bd5" opacity="0.5"/>
<text x="725.90" y="159.60" font-size="9.8" fill="#fff" stroke="#fff" stroke-width="0.25" text-anchor="middle" textLength="23.8" lengthAdjust="spacingAndGlyphs">Filter</text>
<text x="725.90" y="172.50" font-size="9.8" fill="#fff" stroke="#fff" stroke-width="0.25" text-anchor="middle" textLength="31.6" lengthAdjust="spacingAndGlyphs">On/Off</text>
<rect x="768.00" y="155.50" width="27.70" height="13.50" rx="4.5" fill="#dcdcdc" stroke="#c4c4c4" stroke-width="1"/>
<rect x="762.50" y="151.50" width="38.70" height="22.00" rx="3.5" fill="#70ad47" opacity="0.5"/>
<text x="782.45" y="159.70" font-size="9.8" fill="#fff" stroke="#fff" stroke-width="0.25" text-anchor="middle" textLength="23.8" lengthAdjust="spacingAndGlyphs">Filter</text>
<text x="782.45" y="172.60" font-size="9.8" fill="#fff" stroke="#fff" stroke-width="0.25" text-anchor="middle" textLength="31.6" lengthAdjust="spacingAndGlyphs">On/Off</text>
<rect x="639.80" y="194.60" width="58.00" height="42.60" rx="4.5" fill="#e2e2e2" stroke="#adadad" stroke-width="1.7"/>
<path d="M653,195 L657.3,216 L653.5,236.6 M686,195 L681,216 L685.4,236.6 M657.3,216 H681" stroke="#bdbdbd" stroke-width="1.4" fill="none"/>
<text x="669.40" y="212.60" font-size="10" fill="#000" stroke="#000" stroke-width="0.25" text-anchor="middle" textLength="32.8" lengthAdjust="spacingAndGlyphs">Playlist</text>
<text x="669.70" y="225.80" font-size="10" fill="#000" stroke="#000" stroke-width="0.25" text-anchor="middle" textLength="48.2" lengthAdjust="spacingAndGlyphs">Navigation</text>
<rect x="599.60" y="226.00" width="24.20" height="12.40" rx="5" fill="#e0e0e0" stroke="#bcbcbc" stroke-width="1.2"/>
<text x="611.90" y="234.60" font-size="10" fill="#000" stroke="#000" stroke-width="0.25" text-anchor="middle" textLength="45.0" lengthAdjust="spacingAndGlyphs">Fullscreen</text>
<rect x="740.30" y="192.40" width="25.40" height="20.20" rx="4" fill="#e0e0e0" stroke="#bcbcbc" stroke-width="1.3"/>
<text x="752.50" y="204.60" font-size="10" fill="#000" stroke="#000" stroke-width="0.25" text-anchor="middle" textLength="48.6" lengthAdjust="spacingAndGlyphs">Track View</text>
<rect x="719.40" y="225.00" width="25.00" height="14.50" rx="4.5" fill="#dcdcdc" stroke="#c4c4c4" stroke-width="1"/>
<rect x="716.50" y="222.20" width="30.80" height="20.40" rx="3.5" fill="#5b9bd5" opacity="0.5"/>
<text x="731.90" y="229.60" font-size="9.6" fill="#000" stroke="#000" stroke-width="0.25" text-anchor="middle" textLength="24.8" lengthAdjust="spacingAndGlyphs">Player</text>
<text transform="translate(731.60,241.20) scale(0.92,1)" font-size="9.6" fill="#000" stroke="#000" stroke-width="0.25" text-anchor="middle">A</text>
<rect x="760.90" y="225.00" width="25.00" height="14.50" rx="4.5" fill="#dcdcdc" stroke="#c4c4c4" stroke-width="1"/>
<rect x="758.00" y="222.20" width="30.80" height="20.40" rx="3.5" fill="#70ad47" opacity="0.5"/>
<text x="773.40" y="229.60" font-size="9.6" fill="#000" stroke="#000" stroke-width="0.25" text-anchor="middle" textLength="24.8" lengthAdjust="spacingAndGlyphs">Player</text>
<text transform="translate(773.10,241.20) scale(0.92,1)" font-size="9.6" fill="#000" stroke="#000" stroke-width="0.25" text-anchor="middle">B</text>
<rect x="213.40" y="269.30" width="353.70" height="47.40" rx="5" fill="#fff" stroke="#000" stroke-width="2"/>
<line x1="567.50" y1="294.00" x2="580.50" y2="294.00" stroke="#000" stroke-width="2" stroke-linecap="butt"/>
<rect x="219.00" y="279.20" width="32.00" height="23.60" rx="4.5" fill="#000"/>
<text x="235.50" y="288.70" font-size="9.2" fill="#fff" stroke="#fff" stroke-width="0.2" text-anchor="middle" textLength="32.2" lengthAdjust="spacingAndGlyphs">Fx Units</text>
<text x="235.20" y="300.60" font-size="9.2" fill="#fff" stroke="#fff" stroke-width="0.2" text-anchor="middle" textLength="12.6" lengthAdjust="spacingAndGlyphs">1/2</text>
<rect x="258.60" y="282.40" width="26.30" height="18.40" rx="4.5" fill="#e0e0e0" stroke="#c4c4c4" stroke-width="1.2"/>
<text x="271.90" y="287.90" font-size="9.2" fill="#000" stroke="#000" stroke-width="0.2" text-anchor="middle" textLength="32.2" lengthAdjust="spacingAndGlyphs">Fx Units</text>
<text x="271.90" y="299.60" font-size="9.2" fill="#000" stroke="#000" stroke-width="0.2" text-anchor="middle" textLength="12.6" lengthAdjust="spacingAndGlyphs">3/4</text>
<rect x="298.00" y="281.50" width="25.80" height="19.80" rx="4" fill="#e3e3e3" stroke="#c4c4c4" stroke-width="1.4"/>
<path d="M301.40,284.90 L320.40,297.90 M320.40,284.90 L301.40,297.90" stroke="#fff" stroke-width="1.9" fill="none"/>
<rect x="335.50" y="281.50" width="25.80" height="19.80" rx="4" fill="#e3e3e3" stroke="#c4c4c4" stroke-width="1.4"/>
<path d="M338.90,284.90 L357.90,297.90 M357.90,284.90 L338.90,297.90" stroke="#fff" stroke-width="1.9" fill="none"/>
<rect x="376.40" y="281.50" width="25.80" height="19.80" rx="4" fill="#e3e3e3" stroke="#c4c4c4" stroke-width="1.4"/>
<path d="M379.80,284.90 L398.80,297.90 M398.80,284.90 L379.80,297.90" stroke="#fff" stroke-width="1.9" fill="none"/>
<rect x="415.20" y="281.50" width="25.80" height="19.80" rx="4" fill="#e3e3e3" stroke="#c4c4c4" stroke-width="1.4"/>
<path d="M418.60,284.90 L437.60,297.90 M437.60,284.90 L418.60,297.90" stroke="#fff" stroke-width="1.9" fill="none"/>
<rect x="454.20" y="281.50" width="25.80" height="19.80" rx="4" fill="#e3e3e3" stroke="#c4c4c4" stroke-width="1.4"/>
<path d="M457.60,284.90 L476.60,297.90 M476.60,284.90 L457.60,297.90" stroke="#fff" stroke-width="1.9" fill="none"/>
<rect x="491.40" y="281.50" width="25.80" height="19.80" rx="4" fill="#e3e3e3" stroke="#c4c4c4" stroke-width="1.4"/>
<path d="M494.80,284.90 L513.80,297.90 M513.80,284.90 L494.80,297.90" stroke="#fff" stroke-width="1.9" fill="none"/>
<rect x="534.30" y="282.70" width="25.20" height="18.60" rx="4.5" fill="#e0e0e0" stroke="#c4c4c4" stroke-width="1.2"/>
<text x="546.50" y="290.20" font-size="9.2" fill="#000" stroke="#000" stroke-width="0.2" text-anchor="middle" textLength="26.6" lengthAdjust="spacingAndGlyphs">MIXER</text>
<text x="546.30" y="301.90" font-size="9.2" fill="#000" stroke="#000" stroke-width="0.2" text-anchor="middle" textLength="15.4" lengthAdjust="spacingAndGlyphs">C/D</text>
<line x1="222.00" y1="330.80" x2="516.00" y2="330.80" stroke="#c4c4c4" stroke-width="1" stroke-linecap="butt"/>
<line x1="222.00" y1="353.40" x2="516.00" y2="353.40" stroke="#c4c4c4" stroke-width="1" stroke-linecap="butt"/>
<line x1="222.00" y1="375.00" x2="516.00" y2="375.00" stroke="#c4c4c4" stroke-width="1" stroke-linecap="butt"/>
<rect x="217.90" y="323.60" width="29.00" height="14.60" rx="5.5" fill="#dedede" stroke="#c0c0c0" stroke-width="1"/>
<rect x="217.90" y="345.80" width="29.00" height="14.80" rx="5.5" fill="#dedede" stroke="#c0c0c0" stroke-width="1"/>
<rect x="218.10" y="367.70" width="28.60" height="14.70" rx="5.5" fill="#dedede" stroke="#c0c0c0" stroke-width="1"/>
<rect x="257.50" y="323.60" width="29.00" height="14.60" rx="5.5" fill="#dedede" stroke="#c0c0c0" stroke-width="1"/>
<rect x="257.50" y="345.80" width="29.00" height="14.80" rx="5.5" fill="#dedede" stroke="#c0c0c0" stroke-width="1"/>
<rect x="257.70" y="367.70" width="28.60" height="14.70" rx="5.5" fill="#dedede" stroke="#c0c0c0" stroke-width="1"/>
<rect x="296.10" y="323.60" width="29.00" height="14.60" rx="5.5" fill="#dedede" stroke="#c0c0c0" stroke-width="1"/>
<rect x="296.10" y="345.80" width="29.00" height="14.80" rx="5.5" fill="#dedede" stroke="#c0c0c0" stroke-width="1"/>
<rect x="296.30" y="367.70" width="28.60" height="14.70" rx="5.5" fill="#dedede" stroke="#c0c0c0" stroke-width="1"/>
<rect x="335.10" y="323.60" width="29.00" height="14.60" rx="5.5" fill="#dedede" stroke="#c0c0c0" stroke-width="1"/>
<rect x="335.10" y="345.80" width="29.00" height="14.80" rx="5.5" fill="#dedede" stroke="#c0c0c0" stroke-width="1"/>
<rect x="335.30" y="367.70" width="28.60" height="14.70" rx="5.5" fill="#dedede" stroke="#c0c0c0" stroke-width="1"/>
<rect x="374.10" y="323.60" width="29.00" height="14.60" rx="5.5" fill="#dedede" stroke="#c0c0c0" stroke-width="1"/>
<rect x="374.10" y="345.80" width="29.00" height="14.80" rx="5.5" fill="#dedede" stroke="#c0c0c0" stroke-width="1"/>
<rect x="374.30" y="367.70" width="28.60" height="14.70" rx="5.5" fill="#dedede" stroke="#c0c0c0" stroke-width="1"/>
<rect x="413.10" y="323.60" width="29.00" height="14.60" rx="5.5" fill="#dedede" stroke="#c0c0c0" stroke-width="1"/>
<rect x="413.10" y="345.80" width="29.00" height="14.80" rx="5.5" fill="#dedede" stroke="#c0c0c0" stroke-width="1"/>
<rect x="413.30" y="367.70" width="28.60" height="14.70" rx="5.5" fill="#dedede" stroke="#c0c0c0" stroke-width="1"/>
<rect x="452.10" y="323.60" width="29.00" height="14.60" rx="5.5" fill="#dedede" stroke="#c0c0c0" stroke-width="1"/>
<rect x="452.10" y="345.80" width="29.00" height="14.80" rx="5.5" fill="#dedede" stroke="#c0c0c0" stroke-width="1"/>
<rect x="452.30" y="367.70" width="28.60" height="14.70" rx="5.5" fill="#dedede" stroke="#c0c0c0" stroke-width="1"/>
<rect x="491.10" y="323.60" width="29.00" height="14.60" rx="5.5" fill="#dedede" stroke="#c0c0c0" stroke-width="1"/>
<rect x="491.10" y="345.80" width="29.00" height="14.80" rx="5.5" fill="#dedede" stroke="#c0c0c0" stroke-width="1"/>
<rect x="491.30" y="367.70" width="28.60" height="14.70" rx="5.5" fill="#dedede" stroke="#c0c0c0" stroke-width="1"/>
<rect x="215.00" y="318.80" width="154.40" height="22.60" rx="4" fill="#5b9bd5" opacity="0.5"/>
<rect x="369.40" y="318.80" width="154.40" height="22.60" rx="4" fill="#70ad47" opacity="0.5"/>
<rect x="215.00" y="342.00" width="154.40" height="22.40" rx="4" fill="#ed7d31" opacity="0.5"/>
<rect x="369.40" y="342.00" width="154.40" height="22.40" rx="4" fill="#ffc220" opacity="0.5"/>
<rect x="215.00" y="365.00" width="37.60" height="20.40" rx="4" fill="#5b9bd5" opacity="0.5"/>
<rect x="252.60" y="365.00" width="38.60" height="20.40" rx="4" fill="#70ad47" opacity="0.5"/>
<rect x="291.20" y="365.00" width="38.50" height="20.40" rx="4" fill="#ed7d31" opacity="0.5"/>
<rect x="329.70" y="365.00" width="39.80" height="20.40" rx="4" fill="#ffc220" opacity="0.5"/>
<rect x="369.50" y="365.00" width="37.90" height="20.40" rx="4" fill="#5b9bd5" opacity="0.5"/>
<rect x="407.40" y="365.00" width="38.70" height="20.40" rx="4" fill="#70ad47" opacity="0.5"/>
<rect x="446.10" y="365.00" width="38.40" height="20.40" rx="4" fill="#ed7d31" opacity="0.5"/>
<rect x="484.50" y="365.00" width="39.30" height="20.40" rx="4" fill="#ffc220" opacity="0.5"/>
<text x="233.60" y="333.20" font-size="9.4" fill="#b384b6" stroke="#b384b6" stroke-width="0.15" text-anchor="middle" textLength="32.4" lengthAdjust="spacingAndGlyphs">Fx Unit1</text>
<text x="233.40" y="355.60" font-size="9.4" fill="#a783bd" stroke="#a783bd" stroke-width="0.15" text-anchor="middle" textLength="32.4" lengthAdjust="spacingAndGlyphs">Fx Unit1</text>
<text x="233.00" y="378.00" font-size="10" fill="#fff" stroke="#fff" stroke-width="0.25" text-anchor="middle" textLength="16.8" lengthAdjust="spacingAndGlyphs">Cue</text>
<text x="273.20" y="333.20" font-size="9.4" fill="#f6766a" stroke="#f6766a" stroke-width="0.15" text-anchor="middle" textLength="32.4" lengthAdjust="spacingAndGlyphs">Fx Unit2</text>
<text x="273.00" y="355.60" font-size="9.4" fill="#f6726c" stroke="#f6726c" stroke-width="0.15" text-anchor="middle" textLength="32.4" lengthAdjust="spacingAndGlyphs">Fx Unit2</text>
<text x="272.60" y="378.00" font-size="10" fill="#fff" stroke="#fff" stroke-width="0.25" text-anchor="middle" textLength="16.8" lengthAdjust="spacingAndGlyphs">Cue</text>
<text x="311.80" y="333.20" font-size="9.4" fill="#eda4ea" stroke="#eda4ea" stroke-width="0.15" text-anchor="middle" textLength="32.4" lengthAdjust="spacingAndGlyphs">Fx Unit3</text>
<text x="311.60" y="355.60" font-size="9.4" fill="#eda4ea" stroke="#eda4ea" stroke-width="0.15" text-anchor="middle" textLength="32.4" lengthAdjust="spacingAndGlyphs">Fx Unit3</text>
<text x="311.20" y="378.00" font-size="10" fill="#fff" stroke="#fff" stroke-width="0.25" text-anchor="middle" textLength="16.8" lengthAdjust="spacingAndGlyphs">Cue</text>
<text x="350.80" y="333.20" font-size="9.4" fill="#f6b2ac" stroke="#f6b2ac" stroke-width="0.15" text-anchor="middle" textLength="32.4" lengthAdjust="spacingAndGlyphs">Fx Unit4</text>
<text x="350.60" y="355.60" font-size="9.4" fill="#f6b2b4" stroke="#f6b2b4" stroke-width="0.15" text-anchor="middle" textLength="32.4" lengthAdjust="spacingAndGlyphs">Fx Unit4</text>
<text x="350.20" y="378.00" font-size="10" fill="#fff" stroke="#fff" stroke-width="0.25" text-anchor="middle" textLength="16.8" lengthAdjust="spacingAndGlyphs">Cue</text>
<text x="389.80" y="333.20" font-size="9.4" fill="#b384b6" stroke="#b384b6" stroke-width="0.15" text-anchor="middle" textLength="32.4" lengthAdjust="spacingAndGlyphs">Fx Unit1</text>
<text x="389.60" y="355.60" font-size="9.4" fill="#a783bd" stroke="#a783bd" stroke-width="0.15" text-anchor="middle" textLength="32.4" lengthAdjust="spacingAndGlyphs">Fx Unit2</text>
<text x="389.20" y="378.00" font-size="10" fill="#fff" stroke="#fff" stroke-width="0.25" text-anchor="middle" textLength="16.4" lengthAdjust="spacingAndGlyphs">Key</text>
<text x="428.80" y="333.20" font-size="9.4" fill="#f6766a" stroke="#f6766a" stroke-width="0.15" text-anchor="middle" textLength="32.4" lengthAdjust="spacingAndGlyphs">Fx Unit2</text>
<text x="428.60" y="355.60" font-size="9.4" fill="#f6726c" stroke="#f6726c" stroke-width="0.15" text-anchor="middle" textLength="32.4" lengthAdjust="spacingAndGlyphs">Fx Unit2</text>
<text x="428.20" y="378.00" font-size="10" fill="#fff" stroke="#fff" stroke-width="0.25" text-anchor="middle" textLength="16.4" lengthAdjust="spacingAndGlyphs">Key</text>
<text x="467.80" y="333.20" font-size="9.4" fill="#eda4ea" stroke="#eda4ea" stroke-width="0.15" text-anchor="middle" textLength="32.4" lengthAdjust="spacingAndGlyphs">Fx Unit3</text>
<text x="467.60" y="355.60" font-size="9.4" fill="#eda4ea" stroke="#eda4ea" stroke-width="0.15" text-anchor="middle" textLength="32.4" lengthAdjust="spacingAndGlyphs">Fx Unit3</text>
<text x="467.20" y="378.00" font-size="10" fill="#fff" stroke="#fff" stroke-width="0.25" text-anchor="middle" textLength="16.4" lengthAdjust="spacingAndGlyphs">Key</text>
<text x="506.80" y="333.20" font-size="9.4" fill="#f6b2ac" stroke="#f6b2ac" stroke-width="0.15" text-anchor="middle" textLength="32.4" lengthAdjust="spacingAndGlyphs">Fx Unit4</text>
<text x="506.60" y="355.60" font-size="9.4" fill="#f6b2b4" stroke="#f6b2b4" stroke-width="0.15" text-anchor="middle" textLength="32.4" lengthAdjust="spacingAndGlyphs">Fx Unit4</text>
<text x="506.20" y="378.00" font-size="10" fill="#fff" stroke="#fff" stroke-width="0.25" text-anchor="middle" textLength="16.4" lengthAdjust="spacingAndGlyphs">Key</text>
<line x1="217.60" y1="427.30" x2="248.40" y2="427.30" stroke="#9c9c9c" stroke-width="1.3" stroke-linecap="butt"/>
<line x1="219.80" y1="433.72" x2="246.20" y2="433.72" stroke="#b0b0b0" stroke-width="1.1" stroke-linecap="butt"/>
<line x1="217.60" y1="440.14" x2="248.40" y2="440.14" stroke="#9c9c9c" stroke-width="1.3" stroke-linecap="butt"/>
<line x1="219.80" y1="446.56" x2="246.20" y2="446.56" stroke="#b0b0b0" stroke-width="1.1" stroke-linecap="butt"/>
<line x1="217.60" y1="452.98" x2="248.40" y2="452.98" stroke="#9c9c9c" stroke-width="1.3" stroke-linecap="butt"/>
<line x1="219.80" y1="459.40" x2="246.20" y2="459.40" stroke="#b0b0b0" stroke-width="1.1" stroke-linecap="butt"/>
<line x1="217.60" y1="465.82" x2="248.40" y2="465.82" stroke="#9c9c9c" stroke-width="1.3" stroke-linecap="butt"/>
<line x1="219.80" y1="472.24" x2="246.20" y2="472.24" stroke="#b0b0b0" stroke-width="1.1" stroke-linecap="butt"/>
<line x1="217.60" y1="478.66" x2="248.40" y2="478.66" stroke="#9c9c9c" stroke-width="1.3" stroke-linecap="butt"/>
<rect x="229.80" y="401.40" width="6.40" height="95.60" rx="3.2" fill="#9a9a9a"/>
<rect x="216.70" y="408.60" width="32.60" height="16.80" rx="4" fill="#dbdbdb" stroke="#bebebe" stroke-width="1"/>
<rect x="215.00" y="398.60" width="37.50" height="103.60" rx="5" fill="#5b9bd5" opacity="0.5"/>
<line x1="256.30" y1="427.30" x2="287.10" y2="427.30" stroke="#9c9c9c" stroke-width="1.3" stroke-linecap="butt"/>
<line x1="258.50" y1="433.72" x2="284.90" y2="433.72" stroke="#b0b0b0" stroke-width="1.1" stroke-linecap="butt"/>
<line x1="256.30" y1="440.14" x2="287.10" y2="440.14" stroke="#9c9c9c" stroke-width="1.3" stroke-linecap="butt"/>
<line x1="258.50" y1="446.56" x2="284.90" y2="446.56" stroke="#b0b0b0" stroke-width="1.1" stroke-linecap="butt"/>
<line x1="256.30" y1="452.98" x2="287.10" y2="452.98" stroke="#9c9c9c" stroke-width="1.3" stroke-linecap="butt"/>
<line x1="258.50" y1="459.40" x2="284.90" y2="459.40" stroke="#b0b0b0" stroke-width="1.1" stroke-linecap="butt"/>
<line x1="256.30" y1="465.82" x2="287.10" y2="465.82" stroke="#9c9c9c" stroke-width="1.3" stroke-linecap="butt"/>
<line x1="258.50" y1="472.24" x2="284.90" y2="472.24" stroke="#b0b0b0" stroke-width="1.1" stroke-linecap="butt"/>
<line x1="256.30" y1="478.66" x2="287.10" y2="478.66" stroke="#9c9c9c" stroke-width="1.3" stroke-linecap="butt"/>
<rect x="268.50" y="401.40" width="6.40" height="95.60" rx="3.2" fill="#9a9a9a"/>
<rect x="255.40" y="408.60" width="32.60" height="16.80" rx="4" fill="#dbdbdb" stroke="#bebebe" stroke-width="1"/>
<rect x="252.50" y="398.60" width="38.70" height="103.60" rx="5" fill="#70ad47" opacity="0.5"/>
<line x1="295.10" y1="427.30" x2="325.90" y2="427.30" stroke="#9c9c9c" stroke-width="1.3" stroke-linecap="butt"/>
<line x1="297.30" y1="433.72" x2="323.70" y2="433.72" stroke="#b0b0b0" stroke-width="1.1" stroke-linecap="butt"/>
<line x1="295.10" y1="440.14" x2="325.90" y2="440.14" stroke="#9c9c9c" stroke-width="1.3" stroke-linecap="butt"/>
<line x1="297.30" y1="446.56" x2="323.70" y2="446.56" stroke="#b0b0b0" stroke-width="1.1" stroke-linecap="butt"/>
<line x1="295.10" y1="452.98" x2="325.90" y2="452.98" stroke="#9c9c9c" stroke-width="1.3" stroke-linecap="butt"/>
<line x1="297.30" y1="459.40" x2="323.70" y2="459.40" stroke="#b0b0b0" stroke-width="1.1" stroke-linecap="butt"/>
<line x1="295.10" y1="465.82" x2="325.90" y2="465.82" stroke="#9c9c9c" stroke-width="1.3" stroke-linecap="butt"/>
<line x1="297.30" y1="472.24" x2="323.70" y2="472.24" stroke="#b0b0b0" stroke-width="1.1" stroke-linecap="butt"/>
<line x1="295.10" y1="478.66" x2="325.90" y2="478.66" stroke="#9c9c9c" stroke-width="1.3" stroke-linecap="butt"/>
<rect x="307.30" y="401.40" width="6.40" height="95.60" rx="3.2" fill="#9a9a9a"/>
<rect x="294.20" y="408.60" width="32.60" height="16.80" rx="4" fill="#dbdbdb" stroke="#bebebe" stroke-width="1"/>
<rect x="291.20" y="398.60" width="39.40" height="103.60" rx="5" fill="#ed7d31" opacity="0.5"/>
<line x1="334.10" y1="427.30" x2="364.90" y2="427.30" stroke="#9c9c9c" stroke-width="1.3" stroke-linecap="butt"/>
<line x1="336.30" y1="433.72" x2="362.70" y2="433.72" stroke="#b0b0b0" stroke-width="1.1" stroke-linecap="butt"/>
<line x1="334.10" y1="440.14" x2="364.90" y2="440.14" stroke="#9c9c9c" stroke-width="1.3" stroke-linecap="butt"/>
<line x1="336.30" y1="446.56" x2="362.70" y2="446.56" stroke="#b0b0b0" stroke-width="1.1" stroke-linecap="butt"/>
<line x1="334.10" y1="452.98" x2="364.90" y2="452.98" stroke="#9c9c9c" stroke-width="1.3" stroke-linecap="butt"/>
<line x1="336.30" y1="459.40" x2="362.70" y2="459.40" stroke="#b0b0b0" stroke-width="1.1" stroke-linecap="butt"/>
<line x1="334.10" y1="465.82" x2="364.90" y2="465.82" stroke="#9c9c9c" stroke-width="1.3" stroke-linecap="butt"/>
<line x1="336.30" y1="472.24" x2="362.70" y2="472.24" stroke="#b0b0b0" stroke-width="1.1" stroke-linecap="butt"/>
<line x1="334.10" y1="478.66" x2="364.90" y2="478.66" stroke="#9c9c9c" stroke-width="1.3" stroke-linecap="butt"/>
<rect x="346.30" y="401.40" width="6.40" height="95.60" rx="3.2" fill="#9a9a9a"/>
<rect x="333.20" y="408.60" width="32.60" height="16.80" rx="4" fill="#dbdbdb" stroke="#bebebe" stroke-width="1"/>
<rect x="330.60" y="398.60" width="38.20" height="103.60" rx="5" fill="#ffc220" opacity="0.5"/>
<line x1="372.85" y1="427.30" x2="403.65" y2="427.30" stroke="#9c9c9c" stroke-width="1.3" stroke-linecap="butt"/>
<line x1="375.05" y1="433.72" x2="401.45" y2="433.72" stroke="#b0b0b0" stroke-width="1.1" stroke-linecap="butt"/>
<line x1="372.85" y1="440.14" x2="403.65" y2="440.14" stroke="#9c9c9c" stroke-width="1.3" stroke-linecap="butt"/>
<line x1="375.05" y1="446.56" x2="401.45" y2="446.56" stroke="#b0b0b0" stroke-width="1.1" stroke-linecap="butt"/>
<line x1="372.85" y1="452.98" x2="403.65" y2="452.98" stroke="#9c9c9c" stroke-width="1.3" stroke-linecap="butt"/>
<line x1="375.05" y1="459.40" x2="401.45" y2="459.40" stroke="#b0b0b0" stroke-width="1.1" stroke-linecap="butt"/>
<line x1="372.85" y1="465.82" x2="403.65" y2="465.82" stroke="#9c9c9c" stroke-width="1.3" stroke-linecap="butt"/>
<line x1="375.05" y1="472.24" x2="401.45" y2="472.24" stroke="#b0b0b0" stroke-width="1.1" stroke-linecap="butt"/>
<line x1="372.85" y1="478.66" x2="403.65" y2="478.66" stroke="#9c9c9c" stroke-width="1.3" stroke-linecap="butt"/>
<rect x="385.05" y="401.40" width="6.40" height="95.60" rx="3.2" fill="#9a9a9a"/>
<rect x="371.95" y="408.60" width="32.60" height="16.80" rx="4" fill="#dbdbdb" stroke="#bebebe" stroke-width="1"/>
<rect x="370.40" y="398.60" width="37.90" height="103.60" rx="5" fill="#5b9bd5" opacity="0.5"/>
<line x1="411.50" y1="427.30" x2="442.30" y2="427.30" stroke="#9c9c9c" stroke-width="1.3" stroke-linecap="butt"/>
<line x1="413.70" y1="433.72" x2="440.10" y2="433.72" stroke="#b0b0b0" stroke-width="1.1" stroke-linecap="butt"/>
<line x1="411.50" y1="440.14" x2="442.30" y2="440.14" stroke="#9c9c9c" stroke-width="1.3" stroke-linecap="butt"/>
<line x1="413.70" y1="446.56" x2="440.10" y2="446.56" stroke="#b0b0b0" stroke-width="1.1" stroke-linecap="butt"/>
<line x1="411.50" y1="452.98" x2="442.30" y2="452.98" stroke="#9c9c9c" stroke-width="1.3" stroke-linecap="butt"/>
<line x1="413.70" y1="459.40" x2="440.10" y2="459.40" stroke="#b0b0b0" stroke-width="1.1" stroke-linecap="butt"/>
<line x1="411.50" y1="465.82" x2="442.30" y2="465.82" stroke="#9c9c9c" stroke-width="1.3" stroke-linecap="butt"/>
<line x1="413.70" y1="472.24" x2="440.10" y2="472.24" stroke="#b0b0b0" stroke-width="1.1" stroke-linecap="butt"/>
<line x1="411.50" y1="478.66" x2="442.30" y2="478.66" stroke="#9c9c9c" stroke-width="1.3" stroke-linecap="butt"/>
<rect x="423.70" y="401.40" width="6.40" height="95.60" rx="3.2" fill="#9a9a9a"/>
<rect x="410.60" y="408.60" width="32.60" height="16.80" rx="4" fill="#dbdbdb" stroke="#bebebe" stroke-width="1"/>
<rect x="408.40" y="398.60" width="37.40" height="103.60" rx="5" fill="#70ad47" opacity="0.5"/>
<line x1="450.20" y1="427.30" x2="481.00" y2="427.30" stroke="#9c9c9c" stroke-width="1.3" stroke-linecap="butt"/>
<line x1="452.40" y1="433.72" x2="478.80" y2="433.72" stroke="#b0b0b0" stroke-width="1.1" stroke-linecap="butt"/>
<line x1="450.20" y1="440.14" x2="481.00" y2="440.14" stroke="#9c9c9c" stroke-width="1.3" stroke-linecap="butt"/>
<line x1="452.40" y1="446.56" x2="478.80" y2="446.56" stroke="#b0b0b0" stroke-width="1.1" stroke-linecap="butt"/>
<line x1="450.20" y1="452.98" x2="481.00" y2="452.98" stroke="#9c9c9c" stroke-width="1.3" stroke-linecap="butt"/>
<line x1="452.40" y1="459.40" x2="478.80" y2="459.40" stroke="#b0b0b0" stroke-width="1.1" stroke-linecap="butt"/>
<line x1="450.20" y1="465.82" x2="481.00" y2="465.82" stroke="#9c9c9c" stroke-width="1.3" stroke-linecap="butt"/>
<line x1="452.40" y1="472.24" x2="478.80" y2="472.24" stroke="#b0b0b0" stroke-width="1.1" stroke-linecap="butt"/>
<line x1="450.20" y1="478.66" x2="481.00" y2="478.66" stroke="#9c9c9c" stroke-width="1.3" stroke-linecap="butt"/>
<rect x="462.40" y="401.40" width="6.40" height="95.60" rx="3.2" fill="#9a9a9a"/>
<rect x="449.30" y="408.60" width="32.60" height="16.80" rx="4" fill="#dbdbdb" stroke="#bebebe" stroke-width="1"/>
<rect x="447.20" y="398.60" width="37.60" height="103.60" rx="5" fill="#5b9bd5" opacity="0.5"/>
<line x1="489.00" y1="427.30" x2="519.80" y2="427.30" stroke="#9c9c9c" stroke-width="1.3" stroke-linecap="butt"/>
<line x1="491.20" y1="433.72" x2="517.60" y2="433.72" stroke="#b0b0b0" stroke-width="1.1" stroke-linecap="butt"/>
<line x1="489.00" y1="440.14" x2="519.80" y2="440.14" stroke="#9c9c9c" stroke-width="1.3" stroke-linecap="butt"/>
<line x1="491.20" y1="446.56" x2="517.60" y2="446.56" stroke="#b0b0b0" stroke-width="1.1" stroke-linecap="butt"/>
<line x1="489.00" y1="452.98" x2="519.80" y2="452.98" stroke="#9c9c9c" stroke-width="1.3" stroke-linecap="butt"/>
<line x1="491.20" y1="459.40" x2="517.60" y2="459.40" stroke="#b0b0b0" stroke-width="1.1" stroke-linecap="butt"/>
<line x1="489.00" y1="465.82" x2="519.80" y2="465.82" stroke="#9c9c9c" stroke-width="1.3" stroke-linecap="butt"/>
<line x1="491.20" y1="472.24" x2="517.60" y2="472.24" stroke="#b0b0b0" stroke-width="1.1" stroke-linecap="butt"/>
<line x1="489.00" y1="478.66" x2="519.80" y2="478.66" stroke="#9c9c9c" stroke-width="1.3" stroke-linecap="butt"/>
<rect x="501.20" y="401.40" width="6.40" height="95.60" rx="3.2" fill="#9a9a9a"/>
<rect x="488.10" y="408.60" width="32.60" height="16.80" rx="4" fill="#dbdbdb" stroke="#bebebe" stroke-width="1"/>
<rect x="485.20" y="398.60" width="38.60" height="103.60" rx="5" fill="#70ad47" opacity="0.5"/>
<line x1="369.70" y1="390.80" x2="369.70" y2="508.20" stroke="#adadad" stroke-width="1.1" stroke-linecap="butt"/>
<line x1="446.50" y1="390.80" x2="446.50" y2="508.20" stroke="#adadad" stroke-width="1.1" stroke-linecap="butt"/>
<text x="233.30" y="420.40" font-size="10" fill="#fff" stroke="#fff" stroke-width="0.25" text-anchor="middle" textLength="34.4" lengthAdjust="spacingAndGlyphs">Volume</text>
<text x="272.00" y="420.40" font-size="10" fill="#fff" stroke="#fff" stroke-width="0.25" text-anchor="middle" textLength="34.4" lengthAdjust="spacingAndGlyphs">Volume</text>
<text x="310.80" y="420.40" font-size="10" fill="#fff" stroke="#fff" stroke-width="0.25" text-anchor="middle" textLength="34.4" lengthAdjust="spacingAndGlyphs">Volume</text>
<text x="349.80" y="420.40" font-size="10" fill="#fff" stroke="#fff" stroke-width="0.25" text-anchor="middle" textLength="34.4" lengthAdjust="spacingAndGlyphs">Volume</text>
<text x="388.90" y="420.60" font-size="10" fill="#fff" stroke="#fff" stroke-width="0.25" text-anchor="middle" textLength="31.4" lengthAdjust="spacingAndGlyphs">Tempo</text>
<text x="427.30" y="420.80" font-size="10" fill="#fff" stroke="#fff" stroke-width="0.25" text-anchor="middle" textLength="31.4" lengthAdjust="spacingAndGlyphs">Tempo</text>
<text x="465.70" y="413.60" font-size="10" fill="#fff" stroke="#fff" stroke-width="0.25" text-anchor="middle" textLength="22.4" lengthAdjust="spacingAndGlyphs">Loop</text>
<text x="465.50" y="426.40" font-size="10" fill="#fff" stroke="#fff" stroke-width="0.25" text-anchor="middle" textLength="17.8" lengthAdjust="spacingAndGlyphs">Size</text>
<text x="505.10" y="414.20" font-size="10" fill="#fff" stroke="#fff" stroke-width="0.25" text-anchor="middle" textLength="22.4" lengthAdjust="spacingAndGlyphs">Loop</text>
<text x="505.00" y="426.80" font-size="10" fill="#fff" stroke="#fff" stroke-width="0.25" text-anchor="middle" textLength="17.8" lengthAdjust="spacingAndGlyphs">Size</text>
<path d="M524,502 V353.8 A21,21 0 0 1 566,353.8 V498 Q566,502 562,502 H528 Q524,502 524,498 Z" fill="#c9c9c9"/>
<circle cx="545" cy="352.8" r="17.2" fill="#e1e1e1" stroke="#d2d2d2" stroke-width="1"/>
<circle cx="545" cy="352.8" r="9.6" fill="#dedede" stroke="#d6d6d6" stroke-width="1"/>
<line x1="529.60" y1="428.40" x2="560.40" y2="428.40" stroke="#a2a2a2" stroke-width="1.3" stroke-linecap="butt"/>
<line x1="531.80" y1="434.82" x2="558.20" y2="434.82" stroke="#b2b2b2" stroke-width="1.1" stroke-linecap="butt"/>
<line x1="529.60" y1="441.24" x2="560.40" y2="441.24" stroke="#a2a2a2" stroke-width="1.3" stroke-linecap="butt"/>
<line x1="531.80" y1="447.66" x2="558.20" y2="447.66" stroke="#b2b2b2" stroke-width="1.1" stroke-linecap="butt"/>
<line x1="529.60" y1="454.08" x2="560.40" y2="454.08" stroke="#a2a2a2" stroke-width="1.3" stroke-linecap="butt"/>
<line x1="531.80" y1="460.50" x2="558.20" y2="460.50" stroke="#b2b2b2" stroke-width="1.1" stroke-linecap="butt"/>
<line x1="529.60" y1="466.92" x2="560.40" y2="466.92" stroke="#a2a2a2" stroke-width="1.3" stroke-linecap="butt"/>
<line x1="531.80" y1="473.34" x2="558.20" y2="473.34" stroke="#b2b2b2" stroke-width="1.1" stroke-linecap="butt"/>
<line x1="529.60" y1="479.76" x2="560.40" y2="479.76" stroke="#a2a2a2" stroke-width="1.3" stroke-linecap="butt"/>
<rect x="541.80" y="402.20" width="6.40" height="95.00" rx="3.2" fill="#a6a6a6"/>
<rect x="528.60" y="413.60" width="32.80" height="14.40" rx="3" fill="#e4e4e4" stroke="#d2d2d2" stroke-width="1"/>
<text x="545.00" y="349.90" font-size="10" fill="#000" stroke="#000" stroke-width="0.25" text-anchor="middle" textLength="24.2" lengthAdjust="spacingAndGlyphs">Track</text>
<text x="545.00" y="362.70" font-size="10" fill="#000" stroke="#000" stroke-width="0.25" text-anchor="middle" textLength="41.0" lengthAdjust="spacingAndGlyphs">Selection</text>
<text x="545.40" y="414.10" font-size="10" fill="#000" stroke="#000" stroke-width="0.25" text-anchor="middle" textLength="32.0" lengthAdjust="spacingAndGlyphs">Master</text>
<text x="545.30" y="427.00" font-size="10" fill="#000" stroke="#000" stroke-width="0.25" text-anchor="middle" textLength="34.4" lengthAdjust="spacingAndGlyphs">Volume</text>
<rect x="581.00" y="244.20" width="230.10" height="179.60" rx="4" fill="#fff" stroke="#000" stroke-width="2"/>
<g stroke="#ababab" stroke-width="2" stroke-linecap="butt">
<line x1="598.73" y1="289.67" x2="594.84" y2="293.56"/>
<line x1="594.87" y1="284.23" x2="589.92" y2="286.62"/>
<line x1="593.03" y1="277.83" x2="587.56" y2="278.44"/>
<line x1="593.40" y1="271.17" x2="588.04" y2="269.95"/>
<line x1="595.95" y1="265.01" x2="591.29" y2="262.09"/>
<line x1="600.39" y1="260.04" x2="596.96" y2="255.74"/>
<line x1="606.23" y1="256.82" x2="604.41" y2="251.63"/>
<line x1="612.80" y1="255.70" x2="612.80" y2="250.20"/>
<line x1="619.37" y1="256.82" x2="621.19" y2="251.63"/>
<line x1="625.21" y1="260.04" x2="628.64" y2="255.74"/>
<line x1="629.65" y1="265.01" x2="634.31" y2="262.09"/>
<line x1="632.20" y1="271.17" x2="637.56" y2="269.95"/>
<line x1="632.57" y1="277.83" x2="638.04" y2="278.44"/>
<line x1="630.73" y1="284.23" x2="635.68" y2="286.62"/>
<line x1="626.87" y1="289.67" x2="630.76" y2="293.56"/>
</g>
<circle cx="612.8" cy="275.6" r="18.4" fill="#c7b0c8"/>
<circle cx="612.8" cy="275.6" r="10.4" fill="#bfa8c0"/>
<text x="613.30" y="279.00" font-size="10.3" fill="#fff" stroke="#fff" stroke-width="0.25" text-anchor="middle" textLength="35.6" lengthAdjust="spacingAndGlyphs">Dry/Wet</text>
<g stroke="#ababab" stroke-width="2" stroke-linecap="butt">
<line x1="654.73" y1="289.47" x2="650.84" y2="293.36"/>
<line x1="650.87" y1="284.03" x2="645.92" y2="286.42"/>
<line x1="649.03" y1="277.63" x2="643.56" y2="278.24"/>
<line x1="649.40" y1="270.97" x2="644.04" y2="269.75"/>
<line x1="651.95" y1="264.81" x2="647.29" y2="261.89"/>
<line x1="656.39" y1="259.84" x2="652.96" y2="255.54"/>
<line x1="662.23" y1="256.62" x2="660.41" y2="251.43"/>
<line x1="668.80" y1="255.50" x2="668.80" y2="250.00"/>
<line x1="675.37" y1="256.62" x2="677.19" y2="251.43"/>
<line x1="681.21" y1="259.84" x2="684.64" y2="255.54"/>
<line x1="685.65" y1="264.81" x2="690.31" y2="261.89"/>
<line x1="688.20" y1="270.97" x2="693.56" y2="269.75"/>
<line x1="688.57" y1="277.63" x2="694.04" y2="278.24"/>
<line x1="686.73" y1="284.03" x2="691.68" y2="286.42"/>
<line x1="682.87" y1="289.47" x2="686.76" y2="293.36"/>
</g>
<circle cx="668.8" cy="275.4" r="18.4" fill="#c7b0c8"/>
<circle cx="668.8" cy="275.4" r="10.4" fill="#bfa8c0"/>
<text x="669.30" y="278.80" font-size="10.3" fill="#fff" stroke="#fff" stroke-width="0.25" text-anchor="middle" textLength="14.6" lengthAdjust="spacingAndGlyphs">Fx1</text>
<g stroke="#ababab" stroke-width="2" stroke-linecap="butt">
<line x1="710.63" y1="289.67" x2="706.74" y2="293.56"/>
<line x1="706.77" y1="284.23" x2="701.82" y2="286.62"/>
<line x1="704.93" y1="277.83" x2="699.46" y2="278.44"/>
<line x1="705.30" y1="271.17" x2="699.94" y2="269.95"/>
<line x1="707.85" y1="265.01" x2="703.19" y2="262.09"/>
<line x1="712.29" y1="260.04" x2="708.86" y2="255.74"/>
<line x1="718.13" y1="256.82" x2="716.31" y2="251.63"/>
<line x1="724.70" y1="255.70" x2="724.70" y2="250.20"/>
<line x1="731.27" y1="256.82" x2="733.09" y2="251.63"/>
<line x1="737.11" y1="260.04" x2="740.54" y2="255.74"/>
<line x1="741.55" y1="265.01" x2="746.21" y2="262.09"/>
<line x1="744.10" y1="271.17" x2="749.46" y2="269.95"/>
<line x1="744.47" y1="277.83" x2="749.94" y2="278.44"/>
<line x1="742.63" y1="284.23" x2="747.58" y2="286.62"/>
<line x1="738.77" y1="289.67" x2="742.66" y2="293.56"/>
</g>
<circle cx="724.7" cy="275.6" r="18.4" fill="#c7b0c8"/>
<circle cx="724.7" cy="275.6" r="10.4" fill="#bfa8c0"/>
<text x="725.20" y="279.00" font-size="10.3" fill="#fff" stroke="#fff" stroke-width="0.25" text-anchor="middle" textLength="15.6" lengthAdjust="spacingAndGlyphs">Fx2</text>
<g stroke="#ababab" stroke-width="2" stroke-linecap="butt">
<line x1="764.73" y1="289.17" x2="760.84" y2="293.06"/>
<line x1="760.87" y1="283.73" x2="755.92" y2="286.12"/>
<line x1="759.03" y1="277.33" x2="753.56" y2="277.94"/>
<line x1="759.40" y1="270.67" x2="754.04" y2="269.45"/>
<line x1="761.95" y1="264.51" x2="757.29" y2="261.59"/>
<line x1="766.39" y1="259.54" x2="762.96" y2="255.24"/>
<line x1="772.23" y1="256.32" x2="770.41" y2="251.13"/>
<line x1="778.80" y1="255.20" x2="778.80" y2="249.70"/>
<line x1="785.37" y1="256.32" x2="787.19" y2="251.13"/>
<line x1="791.21" y1="259.54" x2="794.64" y2="255.24"/>
<line x1="795.65" y1="264.51" x2="800.31" y2="261.59"/>
<line x1="798.20" y1="270.67" x2="803.56" y2="269.45"/>
<line x1="798.57" y1="277.33" x2="804.04" y2="277.94"/>
<line x1="796.73" y1="283.73" x2="801.68" y2="286.12"/>
<line x1="792.87" y1="289.17" x2="796.76" y2="293.06"/>
</g>
<circle cx="778.8" cy="275.1" r="18.4" fill="#c7b0c8"/>
<circle cx="778.8" cy="275.1" r="10.4" fill="#bfa8c0"/>
<text x="779.30" y="278.50" font-size="10.3" fill="#fff" stroke="#fff" stroke-width="0.25" text-anchor="middle" textLength="15.6" lengthAdjust="spacingAndGlyphs">Fx3</text>
<g stroke="#ababab" stroke-width="2" stroke-linecap="butt">
<line x1="597.33" y1="350.37" x2="593.44" y2="354.26"/>
<line x1="593.47" y1="344.93" x2="588.52" y2="347.32"/>
<line x1="591.63" y1="338.53" x2="586.16" y2="339.14"/>
<line x1="592.00" y1="331.87" x2="586.64" y2="330.65"/>
<line x1="594.55" y1="325.71" x2="589.89" y2="322.79"/>
<line x1="598.99" y1="320.74" x2="595.56" y2="316.44"/>
<line x1="604.83" y1="317.52" x2="603.01" y2="312.33"/>
<line x1="611.40" y1="316.40" x2="611.40" y2="310.90"/>
<line x1="617.97" y1="317.52" x2="619.79" y2="312.33"/>
<line x1="623.81" y1="320.74" x2="627.24" y2="316.44"/>
<line x1="628.25" y1="325.71" x2="632.91" y2="322.79"/>
<line x1="630.80" y1="331.87" x2="636.16" y2="330.65"/>
<line x1="631.17" y1="338.53" x2="636.64" y2="339.14"/>
<line x1="629.33" y1="344.93" x2="634.28" y2="347.32"/>
<line x1="625.47" y1="350.37" x2="629.36" y2="354.26"/>
</g>
<circle cx="611.4" cy="336.3" r="18.4" fill="#f1a89f"/>
<circle cx="611.4" cy="336.3" r="10.4" fill="#ea9f96"/>
<text x="611.90" y="339.70" font-size="10.3" fill="#fff" stroke="#fff" stroke-width="0.25" text-anchor="middle" textLength="35.6" lengthAdjust="spacingAndGlyphs">Dry/Wet</text>
<g stroke="#ababab" stroke-width="2" stroke-linecap="butt">
<line x1="652.93" y1="351.07" x2="649.04" y2="354.96"/>
<line x1="649.07" y1="345.63" x2="644.12" y2="348.02"/>
<line x1="647.23" y1="339.23" x2="641.76" y2="339.84"/>
<line x1="647.60" y1="332.57" x2="642.24" y2="331.35"/>
<line x1="650.15" y1="326.41" x2="645.49" y2="323.49"/>
<line x1="654.59" y1="321.44" x2="651.16" y2="317.14"/>
<line x1="660.43" y1="318.22" x2="658.61" y2="313.03"/>
<line x1="667.00" y1="317.10" x2="667.00" y2="311.60"/>
<line x1="673.57" y1="318.22" x2="675.39" y2="313.03"/>
<line x1="679.41" y1="321.44" x2="682.84" y2="317.14"/>
<line x1="683.85" y1="326.41" x2="688.51" y2="323.49"/>
<line x1="686.40" y1="332.57" x2="691.76" y2="331.35"/>
<line x1="686.77" y1="339.23" x2="692.24" y2="339.84"/>
<line x1="684.93" y1="345.63" x2="689.88" y2="348.02"/>
<line x1="681.07" y1="351.07" x2="684.96" y2="354.96"/>
</g>
<circle cx="667" cy="337" r="18.4" fill="#f1a89f"/>
<circle cx="667" cy="337" r="10.4" fill="#ea9f96"/>
<text x="667.50" y="340.40" font-size="10.3" fill="#fff" stroke="#fff" stroke-width="0.25" text-anchor="middle" textLength="14.6" lengthAdjust="spacingAndGlyphs">Fx1</text>
<g stroke="#ababab" stroke-width="2" stroke-linecap="butt">
<line x1="709.13" y1="351.07" x2="705.24" y2="354.96"/>
<line x1="705.27" y1="345.63" x2="700.32" y2="348.02"/>
<line x1="703.43" y1="339.23" x2="697.96" y2="339.84"/>
<line x1="703.80" y1="332.57" x2="698.44" y2="331.35"/>
<line x1="706.35" y1="326.41" x2="701.69" y2="323.49"/>
<line x1="710.79" y1="321.44" x2="707.36" y2="317.14"/>
<line x1="716.63" y1="318.22" x2="714.81" y2="313.03"/>
<line x1="723.20" y1="317.10" x2="723.20" y2="311.60"/>
<line x1="729.77" y1="318.22" x2="731.59" y2="313.03"/>
<line x1="735.61" y1="321.44" x2="739.04" y2="317.14"/>
<line x1="740.05" y1="326.41" x2="744.71" y2="323.49"/>
<line x1="742.60" y1="332.57" x2="747.96" y2="331.35"/>
<line x1="742.97" y1="339.23" x2="748.44" y2="339.84"/>
<line x1="741.13" y1="345.63" x2="746.08" y2="348.02"/>
<line x1="737.27" y1="351.07" x2="741.16" y2="354.96"/>
</g>
<circle cx="723.2" cy="337" r="18.4" fill="#f1a89f"/>
<circle cx="723.2" cy="337" r="10.4" fill="#ea9f96"/>
<text x="723.70" y="340.40" font-size="10.3" fill="#fff" stroke="#fff" stroke-width="0.25" text-anchor="middle" textLength="15.6" lengthAdjust="spacingAndGlyphs">Fx2</text>
<g stroke="#ababab" stroke-width="2" stroke-linecap="butt">
<line x1="764.13" y1="350.07" x2="760.24" y2="353.96"/>
<line x1="760.27" y1="344.63" x2="755.32" y2="347.02"/>
<line x1="758.43" y1="338.23" x2="752.96" y2="338.84"/>
<line x1="758.80" y1="331.57" x2="753.44" y2="330.35"/>
<line x1="761.35" y1="325.41" x2="756.69" y2="322.49"/>
<line x1="765.79" y1="320.44" x2="762.36" y2="316.14"/>
<line x1="771.63" y1="317.22" x2="769.81" y2="312.03"/>
<line x1="778.20" y1="316.10" x2="778.20" y2="310.60"/>
<line x1="784.77" y1="317.22" x2="786.59" y2="312.03"/>
<line x1="790.61" y1="320.44" x2="794.04" y2="316.14"/>
<line x1="795.05" y1="325.41" x2="799.71" y2="322.49"/>
<line x1="797.60" y1="331.57" x2="802.96" y2="330.35"/>
<line x1="797.97" y1="338.23" x2="803.44" y2="338.84"/>
<line x1="796.13" y1="344.63" x2="801.08" y2="347.02"/>
<line x1="792.27" y1="350.07" x2="796.16" y2="353.96"/>
</g>
<circle cx="778.2" cy="336" r="18.4" fill="#f1a89f"/>
<circle cx="778.2" cy="336" r="10.4" fill="#ea9f96"/>
<text x="778.70" y="339.40" font-size="10.3" fill="#fff" stroke="#fff" stroke-width="0.25" text-anchor="middle" textLength="15.6" lengthAdjust="spacingAndGlyphs">Fx3</text>
<rect x="654.20" y="368.90" width="26.60" height="13.00" rx="4.5" fill="#dcdcdc" stroke="#c6c6c6" stroke-width="1"/>
<rect x="648.70" y="364.70" width="37.60" height="21.60" rx="3.5" fill="#b58bb9" opacity="0.5"/>
<text x="668.30" y="372.90" font-size="9.3" fill="#fff" stroke="#fff" stroke-width="0.2" text-anchor="middle" textLength="14.4" lengthAdjust="spacingAndGlyphs">Fx1</text>
<text x="668.10" y="384.80" font-size="9.4" fill="#fff" stroke="#fff" stroke-width="0.2" text-anchor="middle" textLength="29.4" lengthAdjust="spacingAndGlyphs">On/Off</text>
<rect x="709.20" y="369.10" width="27.40" height="12.90" rx="4.5" fill="#dcdcdc" stroke="#c6c6c6" stroke-width="1"/>
<rect x="703.70" y="364.90" width="38.40" height="21.50" rx="3.5" fill="#b58bb9" opacity="0.5"/>
<text x="723.70" y="372.90" font-size="9.3" fill="#fff" stroke="#fff" stroke-width="0.2" text-anchor="middle" textLength="14.4" lengthAdjust="spacingAndGlyphs">Fx2</text>
<text x="723.50" y="384.80" font-size="9.4" fill="#fff" stroke="#fff" stroke-width="0.2" text-anchor="middle" textLength="29.4" lengthAdjust="spacingAndGlyphs">On/Off</text>
<rect x="766.80" y="370.10" width="26.70" height="12.30" rx="4.5" fill="#dcdcdc" stroke="#c6c6c6" stroke-width="1"/>
<rect x="761.30" y="365.90" width="37.70" height="20.90" rx="3.5" fill="#b58bb9" opacity="0.5"/>
<text x="780.95" y="374.00" font-size="9.3" fill="#fff" stroke="#fff" stroke-width="0.2" text-anchor="middle" textLength="14.4" lengthAdjust="spacingAndGlyphs">Fx3</text>
<text x="780.75" y="385.60" font-size="9.4" fill="#fff" stroke="#fff" stroke-width="0.2" text-anchor="middle" textLength="29.4" lengthAdjust="spacingAndGlyphs">On/Off</text>
<rect x="653.10" y="400.70" width="27.60" height="12.10" rx="4.5" fill="#dcdcdc" stroke="#c6c6c6" stroke-width="1"/>
<rect x="647.60" y="396.50" width="38.60" height="20.70" rx="3.5" fill="#f16959" opacity="0.5"/>
<text x="667.70" y="404.40" font-size="9.3" fill="#fff" stroke="#fff" stroke-width="0.2" text-anchor="middle" textLength="14.4" lengthAdjust="spacingAndGlyphs">Fx1</text>
<text x="667.50" y="416.30" font-size="9.4" fill="#fff" stroke="#fff" stroke-width="0.2" text-anchor="middle" textLength="29.4" lengthAdjust="spacingAndGlyphs">On/Off</text>
<rect x="710.10" y="400.10" width="26.50" height="13.00" rx="4.5" fill="#dcdcdc" stroke="#c6c6c6" stroke-width="1"/>
<rect x="704.60" y="395.90" width="37.50" height="21.60" rx="3.5" fill="#f16959" opacity="0.5"/>
<text x="724.15" y="404.10" font-size="9.3" fill="#fff" stroke="#fff" stroke-width="0.2" text-anchor="middle" textLength="14.4" lengthAdjust="spacingAndGlyphs">Fx2</text>
<text x="723.95" y="416.10" font-size="9.4" fill="#fff" stroke="#fff" stroke-width="0.2" text-anchor="middle" textLength="29.4" lengthAdjust="spacingAndGlyphs">On/Off</text>
<rect x="765.70" y="401.10" width="26.80" height="12.90" rx="4.5" fill="#dcdcdc" stroke="#c6c6c6" stroke-width="1"/>
<rect x="760.20" y="396.90" width="37.80" height="21.50" rx="3.5" fill="#f16959" opacity="0.5"/>
<text x="779.90" y="405.00" font-size="9.3" fill="#fff" stroke="#fff" stroke-width="0.2" text-anchor="middle" textLength="14.4" lengthAdjust="spacingAndGlyphs">Fx3</text>
<text x="779.70" y="417.00" font-size="9.4" fill="#fff" stroke="#fff" stroke-width="0.2" text-anchor="middle" textLength="29.4" lengthAdjust="spacingAndGlyphs">On/Off</text>
<rect x="597.50" y="368.80" width="26.80" height="13.60" rx="5.5" fill="#e0e0e0" stroke="#c4c4c4" stroke-width="1"/>
<rect x="597.50" y="399.80" width="26.80" height="13.60" rx="5.5" fill="#e0e0e0" stroke="#c4c4c4" stroke-width="1"/>
<text x="613.30" y="378.80" font-size="10" fill="#000" stroke="#000" stroke-width="0.25" text-anchor="middle" textLength="57.8" lengthAdjust="spacingAndGlyphs">Preview Play</text>
<text x="613.90" y="409.80" font-size="10" fill="#000" stroke="#000" stroke-width="0.25" text-anchor="middle" textLength="59.8" lengthAdjust="spacingAndGlyphs">Preview Load</text>
<rect x="629.80" y="436.50" width="26.20" height="19.90" rx="4.5" fill="#e0e0e0" stroke="#bcbcbc" stroke-width="1.3"/>
<text x="643.50" y="450.00" font-size="10.6" fill="#000" stroke="#000" stroke-width="0.25" text-anchor="middle" textLength="33.8" lengthAdjust="spacingAndGlyphs">SHIFT2</text>
<rect x="678.20" y="436.40" width="25.80" height="20.10" rx="4" fill="#e3e3e3" stroke="#c4c4c4" stroke-width="1.4"/>
<path d="M681.60,439.80 L700.60,453.10 M700.60,439.80 L681.60,453.10" stroke="#fff" stroke-width="1.9" fill="none"/>
<rect x="726.80" y="437.10" width="26.00" height="19.40" rx="4.5" fill="#e0e0e0" stroke="#bcbcbc" stroke-width="1.3"/>
<text x="739.80" y="450.90" font-size="10.6" fill="#000" stroke="#000" stroke-width="0.25" text-anchor="middle" textLength="33.6" lengthAdjust="spacingAndGlyphs">SHIFT1</text>
<defs><linearGradient id="tz" x1="0" x2="1" y1="0" y2="0"><stop offset="0" stop-color="#70a6da"/><stop offset="0.3" stop-color="#b6b6c0"/><stop offset="0.6" stop-color="#d0b8b0"/><stop offset="1" stop-color="#ee8642"/></linearGradient></defs>
<line x1="658.10" y1="467.80" x2="658.10" y2="496.80" stroke="#a0a0a0" stroke-width="1.2" stroke-linecap="butt"/>
<line x1="665.30" y1="469.80" x2="665.30" y2="494.80" stroke="#b8b8b8" stroke-width="1" stroke-linecap="butt"/>
<line x1="672.50" y1="469.80" x2="672.50" y2="494.80" stroke="#b8b8b8" stroke-width="1" stroke-linecap="butt"/>
<line x1="680.00" y1="469.80" x2="680.00" y2="494.80" stroke="#d0d0d0" stroke-width="1" stroke-linecap="butt"/>
<line x1="708.80" y1="469.80" x2="708.80" y2="494.80" stroke="#d0d0d0" stroke-width="1" stroke-linecap="butt"/>
<line x1="716.30" y1="469.80" x2="716.30" y2="494.80" stroke="#b8b8b8" stroke-width="1" stroke-linecap="butt"/>
<line x1="723.50" y1="469.80" x2="723.50" y2="494.80" stroke="#b8b8b8" stroke-width="1" stroke-linecap="butt"/>
<line x1="730.60" y1="467.80" x2="730.60" y2="496.80" stroke="#a0a0a0" stroke-width="1.2" stroke-linecap="butt"/>
<rect x="647.50" y="480.00" width="93.80" height="5.00" rx="2.5" fill="#aaaaaa"/>
<rect x="688.90" y="467.20" width="11.00" height="31.00" rx="4" fill="#e4e0e0" stroke="#d4cfcf" stroke-width="1"/>
<rect x="641.80" y="464.20" width="104.50" height="35.80" rx="5" fill="url(#tz)" opacity="0.5"/>
<text x="694.80" y="480.10" font-size="10.6" fill="#fff" stroke="#fff" stroke-width="0.25" text-anchor="middle" textLength="28.0" lengthAdjust="spacingAndGlyphs">Track</text>
<text x="694.60" y="494.90" font-size="10.6" fill="#fff" stroke="#fff" stroke-width="0.25" text-anchor="middle" textLength="30.0" lengthAdjust="spacingAndGlyphs">Zoom</text>
<rect x="0.00" y="576.00" width="1024.00" height="2.00" fill="#d8d8d8"/>
</svg>
</body>
</html>
